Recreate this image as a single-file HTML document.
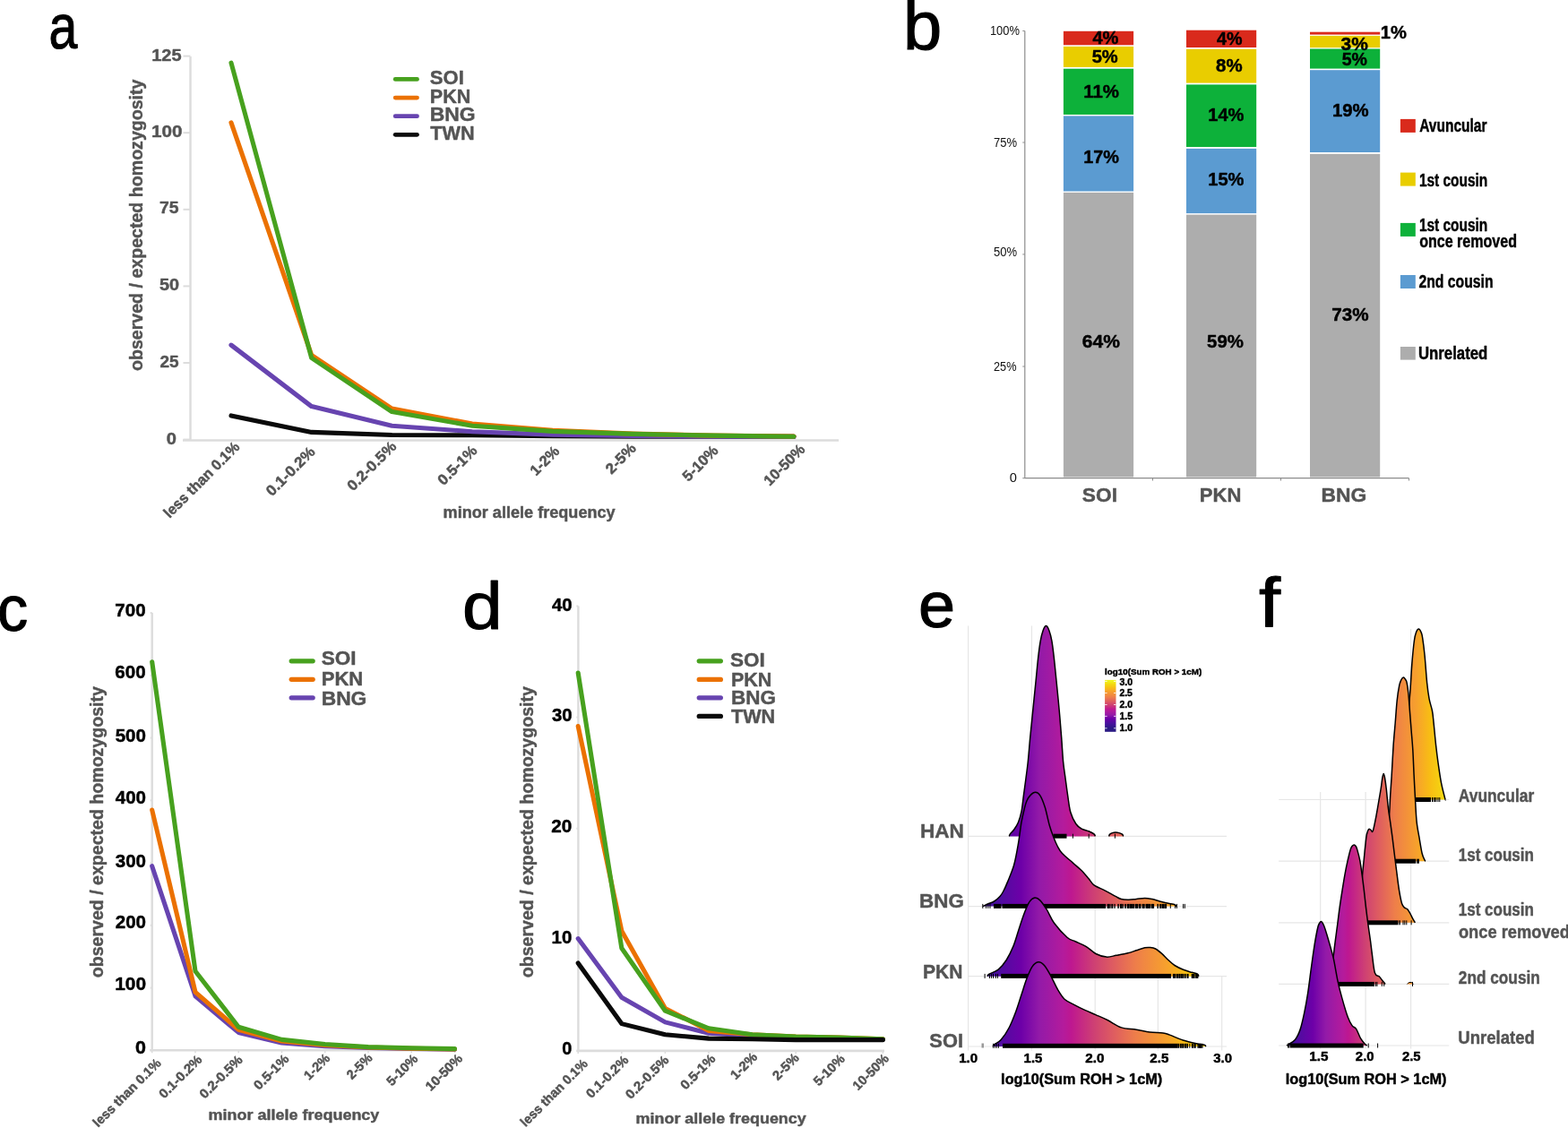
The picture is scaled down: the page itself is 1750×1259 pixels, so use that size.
<!DOCTYPE html>
<html><head><meta charset="utf-8"><title>Figure</title>
<style>html,body{margin:0;padding:0;background:#fff;} svg{display:block;}</style>
</head><body>
<svg width="1750" height="1259" viewBox="0 0 1750 1259">
<rect width="1750" height="1259" fill="#fff"/>
<text id="L_a" x="54.50" y="54.30" style="font-family:'Liberation Sans',sans-serif;font-weight:normal;font-size:71px" fill="#000" text-anchor="start" textLength="31.85" lengthAdjust="spacingAndGlyphs" stroke="#000" stroke-width="1.1" stroke-linejoin="round">a</text>
<text id="L_b" x="1008.10" y="54.50" style="font-family:'Liberation Sans',sans-serif;font-weight:normal;font-size:76.5px" fill="#000" text-anchor="start" textLength="43.21" lengthAdjust="spacingAndGlyphs" stroke="#000" stroke-width="1.1" stroke-linejoin="round">b</text>
<text id="L_c" x="-3.00" y="704.40" style="font-family:'Liberation Sans',sans-serif;font-weight:normal;font-size:71.5px" fill="#000" text-anchor="start" textLength="34.18" lengthAdjust="spacingAndGlyphs" stroke="#000" stroke-width="1.1" stroke-linejoin="round">c</text>
<text id="L_d" x="516.00" y="702.45" style="font-family:'Liberation Sans',sans-serif;font-weight:normal;font-size:74.5px" fill="#000" text-anchor="start" textLength="44.64" lengthAdjust="spacingAndGlyphs" stroke="#000" stroke-width="1.1" stroke-linejoin="round">d</text>
<text id="L_e" x="1024.90" y="700.30" style="font-family:'Liberation Sans',sans-serif;font-weight:normal;font-size:72px" fill="#000" text-anchor="start" textLength="41.12" lengthAdjust="spacingAndGlyphs" stroke="#000" stroke-width="1.1" stroke-linejoin="round">e</text>
<text id="L_f" x="1404.90" y="699.50" style="font-family:'Liberation Sans',sans-serif;font-weight:normal;font-size:77px" fill="#000" text-anchor="start" textLength="24.04" lengthAdjust="spacingAndGlyphs" stroke="#000" stroke-width="1.1" stroke-linejoin="round">f</text>
<line x1="212.5" y1="63" x2="212.5" y2="491.5" stroke="#dcdcdc" stroke-width="2.4"/>
<line x1="204" y1="491.5" x2="936" y2="491.5" stroke="#dcdcdc" stroke-width="2.6"/>
<line x1="204.5" y1="490.6" x2="212.5" y2="490.6" stroke="#dcdcdc" stroke-width="2"/>
<text id="a_t0" x="197.00" y="496.38" style="font-family:'Liberation Sans',sans-serif;font-weight:bold;font-size:18px" fill="#545454" text-anchor="end" textLength="11.16" lengthAdjust="spacingAndGlyphs" stroke="#545454" stroke-width="0.45" stroke-linejoin="round">0</text>
<line x1="204.5" y1="405.0" x2="212.5" y2="405.0" stroke="#dcdcdc" stroke-width="2"/>
<text id="a_t25" x="199.50" y="409.58" style="font-family:'Liberation Sans',sans-serif;font-weight:bold;font-size:18px" fill="#545454" text-anchor="end" textLength="21.09" lengthAdjust="spacingAndGlyphs" stroke="#545454" stroke-width="0.45" stroke-linejoin="round">25</text>
<line x1="204.5" y1="319.4" x2="212.5" y2="319.4" stroke="#dcdcdc" stroke-width="2"/>
<text id="a_t50" x="200.00" y="323.88" style="font-family:'Liberation Sans',sans-serif;font-weight:bold;font-size:18px" fill="#545454" text-anchor="end" textLength="22.04" lengthAdjust="spacingAndGlyphs" stroke="#545454" stroke-width="0.45" stroke-linejoin="round">50</text>
<line x1="204.5" y1="233.8" x2="212.5" y2="233.8" stroke="#dcdcdc" stroke-width="2"/>
<text id="a_t75" x="199.50" y="238.28" style="font-family:'Liberation Sans',sans-serif;font-weight:bold;font-size:18px" fill="#545454" text-anchor="end" textLength="21.54" lengthAdjust="spacingAndGlyphs" stroke="#545454" stroke-width="0.45" stroke-linejoin="round">75</text>
<line x1="204.5" y1="148.2" x2="212.5" y2="148.2" stroke="#dcdcdc" stroke-width="2"/>
<text id="a_t100" x="203.50" y="153.18" style="font-family:'Liberation Sans',sans-serif;font-weight:bold;font-size:18px" fill="#545454" text-anchor="end" textLength="34.46" lengthAdjust="spacingAndGlyphs" stroke="#545454" stroke-width="0.45" stroke-linejoin="round">100</text>
<line x1="204.5" y1="62.6" x2="212.5" y2="62.6" stroke="#dcdcdc" stroke-width="2"/>
<text id="a_t125" x="202.50" y="67.73" style="font-family:'Liberation Sans',sans-serif;font-weight:bold;font-size:18px" fill="#545454" text-anchor="end" textLength="33.30" lengthAdjust="spacingAndGlyphs" stroke="#545454" stroke-width="0.45" stroke-linejoin="round">125</text>
<polyline points="258.0,463.9 347.7,482.4 437.4,485.5 527.1,485.8 616.8,486.8 706.5,487.2 796.2,487.2 885.9,487.2" fill="none" stroke="#0a0a0a" stroke-width="5.1" stroke-linejoin="round" stroke-linecap="round"/>
<polyline points="258.0,385.1 347.7,453.6 437.4,475.2 527.1,481.7 616.8,485.1 706.5,486.5 796.2,487.2 885.9,487.2" fill="none" stroke="#6744b0" stroke-width="5.1" stroke-linejoin="round" stroke-linecap="round"/>
<polyline points="258.0,136.9 347.7,396.4 437.4,456.0 527.1,473.1 616.8,480.3 706.5,484.1 796.2,486.1 885.9,487.0" fill="none" stroke="#eb7100" stroke-width="5.1" stroke-linejoin="round" stroke-linecap="round"/>
<polyline points="258.0,70.1 347.7,399.5 437.4,459.6 527.1,475.2 616.8,481.4 706.5,484.4 796.2,486.1 885.9,487.2" fill="none" stroke="#47a11e" stroke-width="5.1" stroke-linejoin="round" stroke-linecap="round"/>
<text id="a_x0" x="268.50" y="499.85" style="font-family:'Liberation Sans',sans-serif;font-weight:bold;font-size:16.5px" fill="#545454" text-anchor="end" textLength="112.03" lengthAdjust="spacingAndGlyphs" transform="rotate(-45 268.50 499.85)" stroke="#545454" stroke-width="0.45" stroke-linejoin="round">less than 0.1%</text>
<text id="a_x1" x="352.70" y="505.35" style="font-family:'Liberation Sans',sans-serif;font-weight:bold;font-size:16.5px" fill="#545454" text-anchor="end" textLength="69.58" lengthAdjust="spacingAndGlyphs" transform="rotate(-45 352.70 505.35)" stroke="#545454" stroke-width="0.45" stroke-linejoin="round">0.1-0.2%</text>
<text id="a_x2" x="443.40" y="499.35" style="font-family:'Liberation Sans',sans-serif;font-weight:bold;font-size:16.5px" fill="#545454" text-anchor="end" textLength="69.86" lengthAdjust="spacingAndGlyphs" transform="rotate(-45 443.40 499.35)" stroke="#545454" stroke-width="0.45" stroke-linejoin="round">0.2-0.5%</text>
<text id="a_x3" x="533.60" y="503.85" style="font-family:'Liberation Sans',sans-serif;font-weight:bold;font-size:16.5px" fill="#545454" text-anchor="end" textLength="54.54" lengthAdjust="spacingAndGlyphs" transform="rotate(-45 533.60 503.85)" stroke="#545454" stroke-width="0.45" stroke-linejoin="round">0.5-1%</text>
<text id="a_x4" x="625.30" y="504.60" style="font-family:'Liberation Sans',sans-serif;font-weight:bold;font-size:16.5px" fill="#545454" text-anchor="end" textLength="38.39" lengthAdjust="spacingAndGlyphs" transform="rotate(-45 625.30 504.60)" stroke="#545454" stroke-width="0.45" stroke-linejoin="round">1-2%</text>
<text id="a_x5" x="711.00" y="501.35" style="font-family:'Liberation Sans',sans-serif;font-weight:bold;font-size:16.5px" fill="#545454" text-anchor="end" textLength="40.36" lengthAdjust="spacingAndGlyphs" transform="rotate(-45 711.00 501.35)" stroke="#545454" stroke-width="0.45" stroke-linejoin="round">2-5%</text>
<text id="a_x6" x="802.70" y="503.85" style="font-family:'Liberation Sans',sans-serif;font-weight:bold;font-size:16.5px" fill="#545454" text-anchor="end" textLength="48.63" lengthAdjust="spacingAndGlyphs" transform="rotate(-45 802.70 503.85)" stroke="#545454" stroke-width="0.45" stroke-linejoin="round">5-10%</text>
<text id="a_x7" x="899.40" y="502.60" style="font-family:'Liberation Sans',sans-serif;font-weight:bold;font-size:16.5px" fill="#545454" text-anchor="end" textLength="57.24" lengthAdjust="spacingAndGlyphs" transform="rotate(-45 899.40 502.60)" stroke="#545454" stroke-width="0.45" stroke-linejoin="round">10-50%</text>
<line x1="441.2" y1="88.4" x2="465.5" y2="88.4" stroke="#47a11e" stroke-width="4.8" stroke-linecap="round"/>
<text id="a_leg0" x="479.80" y="94.40" style="font-family:'Liberation Sans',sans-serif;font-weight:bold;font-size:22px" fill="#545454" text-anchor="start" textLength="37.99" lengthAdjust="spacingAndGlyphs" stroke="#545454" stroke-width="0.45" stroke-linejoin="round">SOI</text>
<line x1="441.2" y1="109.1" x2="465.5" y2="109.1" stroke="#eb7100" stroke-width="4.8" stroke-linecap="round"/>
<text id="a_leg1" x="479.80" y="115.40" style="font-family:'Liberation Sans',sans-serif;font-weight:bold;font-size:22px" fill="#545454" text-anchor="start" textLength="45.40" lengthAdjust="spacingAndGlyphs" stroke="#545454" stroke-width="0.45" stroke-linejoin="round">PKN</text>
<line x1="441.2" y1="129.7" x2="465.5" y2="129.7" stroke="#6744b0" stroke-width="4.8" stroke-linecap="round"/>
<text id="a_leg2" x="479.80" y="135.40" style="font-family:'Liberation Sans',sans-serif;font-weight:bold;font-size:22px" fill="#545454" text-anchor="start" textLength="50.86" lengthAdjust="spacingAndGlyphs" stroke="#545454" stroke-width="0.45" stroke-linejoin="round">BNG</text>
<line x1="441.2" y1="150.3" x2="465.5" y2="150.3" stroke="#0a0a0a" stroke-width="4.8" stroke-linecap="round"/>
<text id="a_leg3" x="480.30" y="156.40" style="font-family:'Liberation Sans',sans-serif;font-weight:bold;font-size:22px" fill="#545454" text-anchor="start" textLength="49.31" lengthAdjust="spacingAndGlyphs" stroke="#545454" stroke-width="0.45" stroke-linejoin="round">TWN</text>
<text id="a_ylab" x="159.20" y="414.00" style="font-family:'Liberation Sans',sans-serif;font-weight:bold;font-size:21px" fill="#545454" text-anchor="start" textLength="325.49" lengthAdjust="spacingAndGlyphs" transform="rotate(-90 159.20 414.00)" stroke="#545454" stroke-width="0.45" stroke-linejoin="round">observed / expected homozygosity</text>
<text id="a_minor" x="494.60" y="577.50" style="font-family:'Liberation Sans',sans-serif;font-weight:bold;font-size:17.5px" fill="#545454" text-anchor="start" textLength="192.04" lengthAdjust="spacingAndGlyphs" stroke="#545454" stroke-width="0.45" stroke-linejoin="round">minor allele frequency</text>
<line x1="169.7" y1="684.1" x2="169.7" y2="1172.3" stroke="#dcdcdc" stroke-width="2.4"/>
<line x1="167.3" y1="1172.3" x2="509" y2="1172.3" stroke="#dcdcdc" stroke-width="2.6"/>
<line x1="167.7" y1="1172.3" x2="169.7" y2="1172.3" stroke="#dcdcdc" stroke-width="2"/>
<text id="c_t0" x="163.00" y="1176.32" style="font-family:'Liberation Sans',sans-serif;font-weight:bold;font-size:19.5px" fill="#000" text-anchor="end" textLength="11.95" lengthAdjust="spacingAndGlyphs" stroke="#000" stroke-width="0.45" stroke-linejoin="round">0</text>
<line x1="167.7" y1="1102.6" x2="169.7" y2="1102.6" stroke="#dcdcdc" stroke-width="2"/>
<text id="c_t100" x="163.05" y="1105.08" style="font-family:'Liberation Sans',sans-serif;font-weight:bold;font-size:19.5px" fill="#000" text-anchor="end" textLength="34.80" lengthAdjust="spacingAndGlyphs" stroke="#000" stroke-width="0.45" stroke-linejoin="round">100</text>
<line x1="167.7" y1="1032.8" x2="169.7" y2="1032.8" stroke="#dcdcdc" stroke-width="2"/>
<text id="c_t200" x="163.00" y="1036.34" style="font-family:'Liberation Sans',sans-serif;font-weight:bold;font-size:19.5px" fill="#000" text-anchor="end" textLength="34.27" lengthAdjust="spacingAndGlyphs" stroke="#000" stroke-width="0.45" stroke-linejoin="round">200</text>
<line x1="167.7" y1="963.1" x2="169.7" y2="963.1" stroke="#dcdcdc" stroke-width="2"/>
<text id="c_t300" x="163.00" y="967.60" style="font-family:'Liberation Sans',sans-serif;font-weight:bold;font-size:19.5px" fill="#000" text-anchor="end" textLength="34.27" lengthAdjust="spacingAndGlyphs" stroke="#000" stroke-width="0.45" stroke-linejoin="round">300</text>
<line x1="167.7" y1="893.3" x2="169.7" y2="893.3" stroke="#dcdcdc" stroke-width="2"/>
<text id="c_t400" x="163.00" y="897.36" style="font-family:'Liberation Sans',sans-serif;font-weight:bold;font-size:19.5px" fill="#000" text-anchor="end" textLength="34.27" lengthAdjust="spacingAndGlyphs" stroke="#000" stroke-width="0.45" stroke-linejoin="round">400</text>
<line x1="167.7" y1="823.6" x2="169.7" y2="823.6" stroke="#dcdcdc" stroke-width="2"/>
<text id="c_t500" x="163.00" y="827.62" style="font-family:'Liberation Sans',sans-serif;font-weight:bold;font-size:19.5px" fill="#000" text-anchor="end" textLength="34.30" lengthAdjust="spacingAndGlyphs" stroke="#000" stroke-width="0.45" stroke-linejoin="round">500</text>
<line x1="167.7" y1="753.9" x2="169.7" y2="753.9" stroke="#dcdcdc" stroke-width="2"/>
<text id="c_t600" x="162.65" y="757.38" style="font-family:'Liberation Sans',sans-serif;font-weight:bold;font-size:19.5px" fill="#000" text-anchor="end" textLength="34.27" lengthAdjust="spacingAndGlyphs" stroke="#000" stroke-width="0.45" stroke-linejoin="round">600</text>
<line x1="167.7" y1="684.1" x2="169.7" y2="684.1" stroke="#dcdcdc" stroke-width="2"/>
<text id="c_t700" x="162.65" y="688.14" style="font-family:'Liberation Sans',sans-serif;font-weight:bold;font-size:19.5px" fill="#000" text-anchor="end" textLength="34.27" lengthAdjust="spacingAndGlyphs" stroke="#000" stroke-width="0.45" stroke-linejoin="round">700</text>
<line x1="169.7" y1="1172.3" x2="169.7" y2="1175.3" stroke="#dcdcdc" stroke-width="1.5"/>
<line x1="218.0" y1="1172.3" x2="218.0" y2="1175.3" stroke="#dcdcdc" stroke-width="1.5"/>
<line x1="266.2" y1="1172.3" x2="266.2" y2="1175.3" stroke="#dcdcdc" stroke-width="1.5"/>
<line x1="314.5" y1="1172.3" x2="314.5" y2="1175.3" stroke="#dcdcdc" stroke-width="1.5"/>
<line x1="362.7" y1="1172.3" x2="362.7" y2="1175.3" stroke="#dcdcdc" stroke-width="1.5"/>
<line x1="411.0" y1="1172.3" x2="411.0" y2="1175.3" stroke="#dcdcdc" stroke-width="1.5"/>
<line x1="459.3" y1="1172.3" x2="459.3" y2="1175.3" stroke="#dcdcdc" stroke-width="1.5"/>
<line x1="507.5" y1="1172.3" x2="507.5" y2="1175.3" stroke="#dcdcdc" stroke-width="1.5"/>
<polyline points="169.7,966.7 218.0,1111.8 266.2,1152.4 314.5,1164.0 362.7,1167.7 411.0,1169.5 459.3,1170.5 507.5,1171.2" fill="none" stroke="#6744b0" stroke-width="5.1" stroke-linejoin="round" stroke-linecap="round"/>
<polyline points="169.7,904.0 218.0,1107.3 266.2,1149.3 314.5,1162.0 362.7,1166.5 411.0,1169.0 459.3,1170.2 507.5,1171.0" fill="none" stroke="#eb7100" stroke-width="5.1" stroke-linejoin="round" stroke-linecap="round"/>
<polyline points="169.7,738.7 218.0,1084.0 266.2,1146.2 314.5,1160.4 362.7,1165.5 411.0,1168.6 459.3,1169.7 507.5,1170.6" fill="none" stroke="#47a11e" stroke-width="5.1" stroke-linejoin="round" stroke-linecap="round"/>
<text id="c_x0" x="180.70" y="1187.55" style="font-family:'Liberation Sans',sans-serif;font-weight:bold;font-size:14.6px" fill="#545454" text-anchor="end" textLength="100.64" lengthAdjust="spacingAndGlyphs" transform="rotate(-45 180.70 1187.55)" stroke="#545454" stroke-width="0.45" stroke-linejoin="round">less than 0.1%</text>
<text id="c_x1" x="226.46" y="1183.55" style="font-family:'Liberation Sans',sans-serif;font-weight:bold;font-size:14.6px" fill="#545454" text-anchor="end" textLength="60.95" lengthAdjust="spacingAndGlyphs" transform="rotate(-45 226.46 1183.55)" stroke="#545454" stroke-width="0.45" stroke-linejoin="round">0.1-0.2%</text>
<text id="c_x2" x="271.72" y="1183.80" style="font-family:'Liberation Sans',sans-serif;font-weight:bold;font-size:14.6px" fill="#545454" text-anchor="end" textLength="61.07" lengthAdjust="spacingAndGlyphs" transform="rotate(-45 271.72 1183.80)" stroke="#545454" stroke-width="0.45" stroke-linejoin="round">0.2-0.5%</text>
<text id="c_x3" x="323.48" y="1182.80" style="font-family:'Liberation Sans',sans-serif;font-weight:bold;font-size:14.6px" fill="#545454" text-anchor="end" textLength="48.58" lengthAdjust="spacingAndGlyphs" transform="rotate(-45 323.48 1182.80)" stroke="#545454" stroke-width="0.45" stroke-linejoin="round">0.5-1%</text>
<text id="c_x4" x="369.24" y="1182.05" style="font-family:'Liberation Sans',sans-serif;font-weight:bold;font-size:14.6px" fill="#545454" text-anchor="end" textLength="34.15" lengthAdjust="spacingAndGlyphs" transform="rotate(-45 369.24 1182.05)" stroke="#545454" stroke-width="0.45" stroke-linejoin="round">1-2%</text>
<text id="c_x5" x="416.50" y="1181.80" style="font-family:'Liberation Sans',sans-serif;font-weight:bold;font-size:14.6px" fill="#545454" text-anchor="end" textLength="33.50" lengthAdjust="spacingAndGlyphs" transform="rotate(-45 416.50 1181.80)" stroke="#545454" stroke-width="0.45" stroke-linejoin="round">2-5%</text>
<text id="c_x6" x="467.26" y="1182.80" style="font-family:'Liberation Sans',sans-serif;font-weight:bold;font-size:14.6px" fill="#545454" text-anchor="end" textLength="42.50" lengthAdjust="spacingAndGlyphs" transform="rotate(-45 467.26 1182.80)" stroke="#545454" stroke-width="0.45" stroke-linejoin="round">5-10%</text>
<text id="c_x7" x="517.02" y="1182.30" style="font-family:'Liberation Sans',sans-serif;font-weight:bold;font-size:14.6px" fill="#545454" text-anchor="end" textLength="51.13" lengthAdjust="spacingAndGlyphs" transform="rotate(-45 517.02 1182.30)" stroke="#545454" stroke-width="0.45" stroke-linejoin="round">10-50%</text>
<line x1="325.20000000000005" y1="737.8" x2="349.2" y2="737.8" stroke="#47a11e" stroke-width="5.2" stroke-linecap="round"/>
<text id="c_leg0" x="358.70" y="742.30" style="font-family:'Liberation Sans',sans-serif;font-weight:bold;font-size:22px" fill="#545454" text-anchor="start" textLength="38.81" lengthAdjust="spacingAndGlyphs" stroke="#545454" stroke-width="0.45" stroke-linejoin="round">SOI</text>
<line x1="325.20000000000005" y1="758.3" x2="349.2" y2="758.3" stroke="#eb7100" stroke-width="5.2" stroke-linecap="round"/>
<text id="c_leg1" x="358.70" y="764.60" style="font-family:'Liberation Sans',sans-serif;font-weight:bold;font-size:22px" fill="#545454" text-anchor="start" textLength="46.52" lengthAdjust="spacingAndGlyphs" stroke="#545454" stroke-width="0.45" stroke-linejoin="round">PKN</text>
<line x1="325.20000000000005" y1="778.8" x2="349.2" y2="778.8" stroke="#6744b0" stroke-width="5.2" stroke-linecap="round"/>
<text id="c_leg2" x="358.70" y="786.50" style="font-family:'Liberation Sans',sans-serif;font-weight:bold;font-size:22px" fill="#545454" text-anchor="start" textLength="50.66" lengthAdjust="spacingAndGlyphs" stroke="#545454" stroke-width="0.45" stroke-linejoin="round">BNG</text>
<text id="c_ylab" x="114.60" y="1091.20" style="font-family:'Liberation Sans',sans-serif;font-weight:bold;font-size:21px" fill="#545454" text-anchor="start" textLength="325.08" lengthAdjust="spacingAndGlyphs" transform="rotate(-90 114.60 1091.20)" stroke="#545454" stroke-width="0.45" stroke-linejoin="round">observed / expected homozygosity</text>
<text id="c_minor" x="232.60" y="1250.20" style="font-family:'Liberation Sans',sans-serif;font-weight:bold;font-size:17px" fill="#545454" text-anchor="start" textLength="190.77" lengthAdjust="spacingAndGlyphs" stroke="#545454" stroke-width="0.45" stroke-linejoin="round">minor allele frequency</text>
<line x1="645.4" y1="676.5" x2="645.4" y2="1172.9" stroke="#dcdcdc" stroke-width="2.4"/>
<line x1="643.5" y1="1172.9" x2="987" y2="1172.9" stroke="#dcdcdc" stroke-width="2.6"/>
<line x1="643.4" y1="1172.9" x2="645.4" y2="1172.9" stroke="#dcdcdc" stroke-width="2"/>
<text id="d_t0" x="638.30" y="1176.92" style="font-family:'Liberation Sans',sans-serif;font-weight:bold;font-size:19.5px" fill="#000" text-anchor="end" textLength="11.08" lengthAdjust="spacingAndGlyphs" stroke="#000" stroke-width="0.45" stroke-linejoin="round">0</text>
<line x1="643.4" y1="1048.8" x2="645.4" y2="1048.8" stroke="#dcdcdc" stroke-width="2"/>
<text id="d_t10" x="638.30" y="1053.32" style="font-family:'Liberation Sans',sans-serif;font-weight:bold;font-size:19.5px" fill="#000" text-anchor="end" textLength="22.81" lengthAdjust="spacingAndGlyphs" stroke="#000" stroke-width="0.45" stroke-linejoin="round">10</text>
<line x1="643.4" y1="924.7" x2="645.4" y2="924.7" stroke="#dcdcdc" stroke-width="2"/>
<text id="d_t20" x="638.30" y="929.22" style="font-family:'Liberation Sans',sans-serif;font-weight:bold;font-size:19.5px" fill="#000" text-anchor="end" textLength="23.08" lengthAdjust="spacingAndGlyphs" stroke="#000" stroke-width="0.45" stroke-linejoin="round">20</text>
<line x1="643.4" y1="800.6" x2="645.4" y2="800.6" stroke="#dcdcdc" stroke-width="2"/>
<text id="d_t30" x="638.65" y="804.62" style="font-family:'Liberation Sans',sans-serif;font-weight:bold;font-size:19.5px" fill="#000" text-anchor="end" textLength="22.67" lengthAdjust="spacingAndGlyphs" stroke="#000" stroke-width="0.45" stroke-linejoin="round">30</text>
<line x1="643.4" y1="676.5" x2="645.4" y2="676.5" stroke="#dcdcdc" stroke-width="2"/>
<text id="d_t40" x="638.65" y="681.52" style="font-family:'Liberation Sans',sans-serif;font-weight:bold;font-size:19.5px" fill="#000" text-anchor="end" textLength="22.61" lengthAdjust="spacingAndGlyphs" stroke="#000" stroke-width="0.45" stroke-linejoin="round">40</text>
<line x1="645.2" y1="1172.9" x2="645.2" y2="1175.9" stroke="#dcdcdc" stroke-width="1.5"/>
<line x1="693.8" y1="1172.9" x2="693.8" y2="1175.9" stroke="#dcdcdc" stroke-width="1.5"/>
<line x1="742.4" y1="1172.9" x2="742.4" y2="1175.9" stroke="#dcdcdc" stroke-width="1.5"/>
<line x1="791.0" y1="1172.9" x2="791.0" y2="1175.9" stroke="#dcdcdc" stroke-width="1.5"/>
<line x1="839.6" y1="1172.9" x2="839.6" y2="1175.9" stroke="#dcdcdc" stroke-width="1.5"/>
<line x1="888.2" y1="1172.9" x2="888.2" y2="1175.9" stroke="#dcdcdc" stroke-width="1.5"/>
<line x1="936.8" y1="1172.9" x2="936.8" y2="1175.9" stroke="#dcdcdc" stroke-width="1.5"/>
<line x1="985.4" y1="1172.9" x2="985.4" y2="1175.9" stroke="#dcdcdc" stroke-width="1.5"/>
<polyline points="645.2,1047.6 693.8,1113.3 742.4,1140.9 791.0,1153.2 839.6,1156.3 888.2,1158.0 936.8,1159.2 985.4,1159.9" fill="none" stroke="#6744b0" stroke-width="5.1" stroke-linejoin="round" stroke-linecap="round"/>
<polyline points="645.2,810.5 693.8,1038.9 742.4,1125.4 791.0,1150.4 839.6,1154.8 888.2,1157.1 936.8,1158.1 985.4,1159.7" fill="none" stroke="#eb7100" stroke-width="5.1" stroke-linejoin="round" stroke-linecap="round"/>
<polyline points="645.2,751.0 693.8,1058.2 742.4,1128.2 791.0,1147.8 839.6,1154.8 888.2,1157.1 936.8,1158.1 985.4,1159.7" fill="none" stroke="#47a11e" stroke-width="5.1" stroke-linejoin="round" stroke-linecap="round"/>
<polyline points="645.2,1074.9 693.8,1142.6 742.4,1154.8 791.0,1159.1 839.6,1159.7 888.2,1160.6 936.8,1160.6 985.4,1160.6" fill="none" stroke="#0a0a0a" stroke-width="5.1" stroke-linejoin="round" stroke-linecap="round"/>
<text id="d_x0" x="656.70" y="1188.15" style="font-family:'Liberation Sans',sans-serif;font-weight:bold;font-size:14.6px" fill="#545454" text-anchor="end" textLength="99.19" lengthAdjust="spacingAndGlyphs" transform="rotate(-45 656.70 1188.15)" stroke="#545454" stroke-width="0.45" stroke-linejoin="round">less than 0.1%</text>
<text id="d_x1" x="702.30" y="1184.15" style="font-family:'Liberation Sans',sans-serif;font-weight:bold;font-size:14.6px" fill="#545454" text-anchor="end" textLength="59.78" lengthAdjust="spacingAndGlyphs" transform="rotate(-45 702.30 1184.15)" stroke="#545454" stroke-width="0.45" stroke-linejoin="round">0.1-0.2%</text>
<text id="d_x2" x="747.40" y="1184.15" style="font-family:'Liberation Sans',sans-serif;font-weight:bold;font-size:14.6px" fill="#545454" text-anchor="end" textLength="61.29" lengthAdjust="spacingAndGlyphs" transform="rotate(-45 747.40 1184.15)" stroke="#545454" stroke-width="0.45" stroke-linejoin="round">0.2-0.5%</text>
<text id="d_x3" x="799.50" y="1182.65" style="font-family:'Liberation Sans',sans-serif;font-weight:bold;font-size:14.6px" fill="#545454" text-anchor="end" textLength="48.50" lengthAdjust="spacingAndGlyphs" transform="rotate(-45 799.50 1182.65)" stroke="#545454" stroke-width="0.45" stroke-linejoin="round">0.5-1%</text>
<text id="d_x4" x="846.10" y="1180.65" style="font-family:'Liberation Sans',sans-serif;font-weight:bold;font-size:14.6px" fill="#545454" text-anchor="end" textLength="35.58" lengthAdjust="spacingAndGlyphs" transform="rotate(-45 846.10 1180.65)" stroke="#545454" stroke-width="0.45" stroke-linejoin="round">1-2%</text>
<text id="d_x5" x="892.70" y="1181.65" style="font-family:'Liberation Sans',sans-serif;font-weight:bold;font-size:14.6px" fill="#545454" text-anchor="end" textLength="35.06" lengthAdjust="spacingAndGlyphs" transform="rotate(-45 892.70 1181.65)" stroke="#545454" stroke-width="0.45" stroke-linejoin="round">2-5%</text>
<text id="d_x6" x="943.80" y="1182.90" style="font-family:'Liberation Sans',sans-serif;font-weight:bold;font-size:14.6px" fill="#545454" text-anchor="end" textLength="42.39" lengthAdjust="spacingAndGlyphs" transform="rotate(-45 943.80 1182.90)" stroke="#545454" stroke-width="0.45" stroke-linejoin="round">5-10%</text>
<text id="d_x7" x="992.90" y="1182.40" style="font-family:'Liberation Sans',sans-serif;font-weight:bold;font-size:14.6px" fill="#545454" text-anchor="end" textLength="49.93" lengthAdjust="spacingAndGlyphs" transform="rotate(-45 992.90 1182.40)" stroke="#545454" stroke-width="0.45" stroke-linejoin="round">10-50%</text>
<line x1="780.2" y1="737.8" x2="804.4" y2="737.8" stroke="#47a11e" stroke-width="5.2" stroke-linecap="round"/>
<text id="d_leg0" x="815.00" y="744.40" style="font-family:'Liberation Sans',sans-serif;font-weight:bold;font-size:22px" fill="#545454" text-anchor="start" textLength="38.81" lengthAdjust="spacingAndGlyphs" stroke="#545454" stroke-width="0.45" stroke-linejoin="round">SOI</text>
<line x1="780.2" y1="758.4" x2="804.4" y2="758.4" stroke="#eb7100" stroke-width="5.2" stroke-linecap="round"/>
<text id="d_leg1" x="816.00" y="765.80" style="font-family:'Liberation Sans',sans-serif;font-weight:bold;font-size:22px" fill="#545454" text-anchor="start" textLength="45.40" lengthAdjust="spacingAndGlyphs" stroke="#545454" stroke-width="0.45" stroke-linejoin="round">PKN</text>
<line x1="780.2" y1="778.8" x2="804.4" y2="778.8" stroke="#6744b0" stroke-width="5.2" stroke-linecap="round"/>
<text id="d_leg2" x="816.00" y="786.40" style="font-family:'Liberation Sans',sans-serif;font-weight:bold;font-size:22px" fill="#545454" text-anchor="start" textLength="49.93" lengthAdjust="spacingAndGlyphs" stroke="#545454" stroke-width="0.45" stroke-linejoin="round">BNG</text>
<line x1="780.2" y1="799.4" x2="804.4" y2="799.4" stroke="#0a0a0a" stroke-width="5.2" stroke-linecap="round"/>
<text id="d_leg3" x="816.00" y="806.80" style="font-family:'Liberation Sans',sans-serif;font-weight:bold;font-size:22px" fill="#545454" text-anchor="start" textLength="49.11" lengthAdjust="spacingAndGlyphs" stroke="#545454" stroke-width="0.45" stroke-linejoin="round">TWN</text>
<text id="d_ylab" x="595.40" y="1091.20" style="font-family:'Liberation Sans',sans-serif;font-weight:bold;font-size:21px" fill="#545454" text-anchor="start" textLength="325.08" lengthAdjust="spacingAndGlyphs" transform="rotate(-90 595.40 1091.20)" stroke="#545454" stroke-width="0.45" stroke-linejoin="round">observed / expected homozygosity</text>
<text id="d_minor" x="709.60" y="1254.20" style="font-family:'Liberation Sans',sans-serif;font-weight:bold;font-size:17px" fill="#545454" text-anchor="start" textLength="190.14" lengthAdjust="spacingAndGlyphs" stroke="#545454" stroke-width="0.45" stroke-linejoin="round">minor allele frequency</text>
<line x1="1143.8" y1="34.5" x2="1143.8" y2="534" stroke="#8c8c8c" stroke-width="1.2"/>
<line x1="1143.8" y1="533.7" x2="1572.5" y2="533.7" stroke="#8c8c8c" stroke-width="1.2"/>
<line x1="1141.3" y1="34.5" x2="1143.8" y2="34.5" stroke="#8c8c8c" stroke-width="1"/>
<line x1="1141.3" y1="159" x2="1143.8" y2="159" stroke="#8c8c8c" stroke-width="1"/>
<line x1="1141.3" y1="283.9" x2="1143.8" y2="283.9" stroke="#8c8c8c" stroke-width="1"/>
<line x1="1141.3" y1="409" x2="1143.8" y2="409" stroke="#8c8c8c" stroke-width="1"/>
<line x1="1141.3" y1="533.7" x2="1143.8" y2="533.7" stroke="#8c8c8c" stroke-width="1"/>
<line x1="1286.5" y1="533.7" x2="1286.5" y2="536.5" stroke="#8c8c8c" stroke-width="1"/>
<line x1="1429.5" y1="533.7" x2="1429.5" y2="536.5" stroke="#8c8c8c" stroke-width="1"/>
<line x1="1572.5" y1="533.7" x2="1572.5" y2="536.5" stroke="#8c8c8c" stroke-width="1"/>
<text id="b_t100" x="1138.00" y="38.50" style="font-family:'Liberation Sans',sans-serif;font-weight:normal;font-size:14.5px" fill="#111" text-anchor="end" textLength="33.12" lengthAdjust="spacingAndGlyphs">100%</text>
<text id="b_t75" x="1135.00" y="163.50" style="font-family:'Liberation Sans',sans-serif;font-weight:normal;font-size:14.5px" fill="#111" text-anchor="end" textLength="26.07" lengthAdjust="spacingAndGlyphs">75%</text>
<text id="b_t50" x="1135.00" y="285.90" style="font-family:'Liberation Sans',sans-serif;font-weight:normal;font-size:14.5px" fill="#111" text-anchor="end" textLength="26.07" lengthAdjust="spacingAndGlyphs">50%</text>
<text id="b_t25" x="1134.50" y="413.50" style="font-family:'Liberation Sans',sans-serif;font-weight:normal;font-size:14.5px" fill="#111" text-anchor="end" textLength="25.51" lengthAdjust="spacingAndGlyphs">25%</text>
<text id="b_t0" x="1135.00" y="537.70" style="font-family:'Liberation Sans',sans-serif;font-weight:normal;font-size:14.5px" fill="#111" text-anchor="end" textLength="8.16" lengthAdjust="spacingAndGlyphs">0</text>
<rect x="1186.9" y="34.8" width="78.2" height="15.5" fill="#d92a1c"/>
<rect x="1186.9" y="51.9" width="78.2" height="23.0" fill="#e9cd00"/>
<rect x="1186.9" y="76.7" width="78.2" height="51.2" fill="#0db13a"/>
<rect x="1186.9" y="129.4" width="78.2" height="84.1" fill="#5b9bd1"/>
<rect x="1186.9" y="214.9" width="78.2" height="317.6" fill="#adadad"/>
<rect x="1324.0" y="33.7" width="78.2" height="19.3" fill="#d92a1c"/>
<rect x="1324.0" y="54.8" width="78.2" height="37.8" fill="#e9cd00"/>
<rect x="1324.0" y="94.4" width="78.2" height="69.6" fill="#0db13a"/>
<rect x="1324.0" y="165.9" width="78.2" height="72.2" fill="#5b9bd1"/>
<rect x="1324.0" y="239.6" width="78.2" height="292.9" fill="#adadad"/>
<rect x="1462.0" y="35.7" width="78.2" height="2.9" fill="#d92a1c"/>
<rect x="1462.0" y="39.9" width="78.2" height="13.3" fill="#e9cd00"/>
<rect x="1462.0" y="54.5" width="78.2" height="22.1" fill="#0db13a"/>
<rect x="1462.0" y="78.2" width="78.2" height="91.8" fill="#5b9bd1"/>
<rect x="1462.0" y="171.8" width="78.2" height="360.7" fill="#adadad"/>
<text id="b_ls4" x="1248.40" y="49.20" style="font-family:'Liberation Sans',sans-serif;font-weight:bold;font-size:19.5px" fill="#000" text-anchor="end" textLength="28.96" lengthAdjust="spacingAndGlyphs" stroke="#000" stroke-width="0.45" stroke-linejoin="round">4%</text>
<text id="b_ls5" x="1247.70" y="70.40" style="font-family:'Liberation Sans',sans-serif;font-weight:bold;font-size:19.5px" fill="#000" text-anchor="end" textLength="29.03" lengthAdjust="spacingAndGlyphs" stroke="#000" stroke-width="0.45" stroke-linejoin="round">5%</text>
<text id="b_ls11" x="1248.90" y="109.30" style="font-family:'Liberation Sans',sans-serif;font-weight:bold;font-size:19.5px" fill="#000" text-anchor="end" textLength="39.70" lengthAdjust="spacingAndGlyphs" stroke="#000" stroke-width="0.45" stroke-linejoin="round">11%</text>
<text id="b_ls17" x="1248.90" y="181.80" style="font-family:'Liberation Sans',sans-serif;font-weight:bold;font-size:19.5px" fill="#000" text-anchor="end" textLength="39.73" lengthAdjust="spacingAndGlyphs" stroke="#000" stroke-width="0.45" stroke-linejoin="round">17%</text>
<text id="b_ls64" x="1249.80" y="387.80" style="font-family:'Liberation Sans',sans-serif;font-weight:bold;font-size:19.5px" fill="#000" text-anchor="end" textLength="42.01" lengthAdjust="spacingAndGlyphs" stroke="#000" stroke-width="0.45" stroke-linejoin="round">64%</text>
<text id="b_lp4" x="1386.60" y="50.10" style="font-family:'Liberation Sans',sans-serif;font-weight:bold;font-size:19.5px" fill="#000" text-anchor="end" textLength="28.46" lengthAdjust="spacingAndGlyphs" stroke="#000" stroke-width="0.45" stroke-linejoin="round">4%</text>
<text id="b_lp8" x="1386.60" y="79.70" style="font-family:'Liberation Sans',sans-serif;font-weight:bold;font-size:19.5px" fill="#000" text-anchor="end" textLength="29.48" lengthAdjust="spacingAndGlyphs" stroke="#000" stroke-width="0.45" stroke-linejoin="round">8%</text>
<text id="b_lp14" x="1388.40" y="134.50" style="font-family:'Liberation Sans',sans-serif;font-weight:bold;font-size:19.5px" fill="#000" text-anchor="end" textLength="40.14" lengthAdjust="spacingAndGlyphs" stroke="#000" stroke-width="0.45" stroke-linejoin="round">14%</text>
<text id="b_lp15" x="1388.40" y="207.20" style="font-family:'Liberation Sans',sans-serif;font-weight:bold;font-size:19.5px" fill="#000" text-anchor="end" textLength="40.14" lengthAdjust="spacingAndGlyphs" stroke="#000" stroke-width="0.45" stroke-linejoin="round">15%</text>
<text id="b_lp59" x="1387.90" y="387.50" style="font-family:'Liberation Sans',sans-serif;font-weight:bold;font-size:19.5px" fill="#000" text-anchor="end" textLength="40.78" lengthAdjust="spacingAndGlyphs" stroke="#000" stroke-width="0.45" stroke-linejoin="round">59%</text>
<text id="b_lb3" x="1526.80" y="55.50" style="font-family:'Liberation Sans',sans-serif;font-weight:bold;font-size:19.5px" fill="#000" text-anchor="end" textLength="30.22" lengthAdjust="spacingAndGlyphs" stroke="#000" stroke-width="0.45" stroke-linejoin="round">3%</text>
<text id="b_lb5" x="1525.80" y="73.30" style="font-family:'Liberation Sans',sans-serif;font-weight:bold;font-size:19.5px" fill="#000" text-anchor="end" textLength="28.12" lengthAdjust="spacingAndGlyphs" stroke="#000" stroke-width="0.45" stroke-linejoin="round">5%</text>
<text id="b_lb19" x="1527.60" y="130.40" style="font-family:'Liberation Sans',sans-serif;font-weight:bold;font-size:19.5px" fill="#000" text-anchor="end" textLength="40.67" lengthAdjust="spacingAndGlyphs" stroke="#000" stroke-width="0.45" stroke-linejoin="round">19%</text>
<text id="b_lb73" x="1527.70" y="358.30" style="font-family:'Liberation Sans',sans-serif;font-weight:bold;font-size:19.5px" fill="#000" text-anchor="end" textLength="41.32" lengthAdjust="spacingAndGlyphs" stroke="#000" stroke-width="0.45" stroke-linejoin="round">73%</text>
<text id="b_l1" x="1540.80" y="43.40" style="font-family:'Liberation Sans',sans-serif;font-weight:bold;font-size:19.5px" fill="#000" text-anchor="start" textLength="29.04" lengthAdjust="spacingAndGlyphs" stroke="#000" stroke-width="0.45" stroke-linejoin="round">1%</text>
<rect x="1562.9" y="132.9" width="16.9" height="15.0" fill="#d92a1c"/>
<text id="b_leg0" x="1584.20" y="147.00" style="font-family:'Liberation Sans',sans-serif;font-weight:bold;font-size:19.5px" fill="#000" text-anchor="start" textLength="75.33" lengthAdjust="spacingAndGlyphs" stroke="#000" stroke-width="0.45" stroke-linejoin="round">Avuncular</text>
<rect x="1562.9" y="192.6" width="16.9" height="15.0" fill="#e9cd00"/>
<text id="b_leg1" x="1583.90" y="208.00" style="font-family:'Liberation Sans',sans-serif;font-weight:bold;font-size:19.5px" fill="#000" text-anchor="start" textLength="76.35" lengthAdjust="spacingAndGlyphs" stroke="#000" stroke-width="0.45" stroke-linejoin="round">1st cousin</text>
<rect x="1562.9" y="248.9" width="16.9" height="15.0" fill="#0db13a"/>
<text id="b_leg2" x="1583.90" y="257.50" style="font-family:'Liberation Sans',sans-serif;font-weight:bold;font-size:19.5px" fill="#000" text-anchor="start" textLength="76.35" lengthAdjust="spacingAndGlyphs" stroke="#000" stroke-width="0.45" stroke-linejoin="round">1st cousin</text>
<text id="b_leg3" x="1584.20" y="276.20" style="font-family:'Liberation Sans',sans-serif;font-weight:bold;font-size:19.5px" fill="#000" text-anchor="start" textLength="108.85" lengthAdjust="spacingAndGlyphs" stroke="#000" stroke-width="0.45" stroke-linejoin="round">once removed</text>
<rect x="1562.9" y="307" width="16.9" height="15.0" fill="#5b9bd1"/>
<text id="b_leg4" x="1583.50" y="321.40" style="font-family:'Liberation Sans',sans-serif;font-weight:bold;font-size:19.5px" fill="#000" text-anchor="start" textLength="83.00" lengthAdjust="spacingAndGlyphs" stroke="#000" stroke-width="0.45" stroke-linejoin="round">2nd cousin</text>
<rect x="1562.9" y="387" width="16.9" height="14.6" fill="#adadad"/>
<text id="b_leg5" x="1583.00" y="401.30" style="font-family:'Liberation Sans',sans-serif;font-weight:bold;font-size:19.5px" fill="#000" text-anchor="start" textLength="77.29" lengthAdjust="spacingAndGlyphs" stroke="#000" stroke-width="0.45" stroke-linejoin="round">Unrelated</text>
<text id="b_catSOI" x="1207.85" y="559.70" style="font-family:'Liberation Sans',sans-serif;font-weight:bold;font-size:22px" fill="#545454" text-anchor="start" textLength="39.14" lengthAdjust="spacingAndGlyphs" stroke="#545454" stroke-width="0.45" stroke-linejoin="round">SOI</text>
<text id="b_catPKN" x="1338.80" y="559.70" style="font-family:'Liberation Sans',sans-serif;font-weight:bold;font-size:22px" fill="#545454" text-anchor="start" textLength="46.54" lengthAdjust="spacingAndGlyphs" stroke="#545454" stroke-width="0.45" stroke-linejoin="round">PKN</text>
<text id="b_catBNG" x="1474.60" y="559.70" style="font-family:'Liberation Sans',sans-serif;font-weight:bold;font-size:22px" fill="#545454" text-anchor="start" textLength="50.77" lengthAdjust="spacingAndGlyphs" stroke="#545454" stroke-width="0.45" stroke-linejoin="round">BNG</text>
<defs>
<linearGradient id="ge" gradientUnits="userSpaceOnUse" x1="1080.9" y1="0" x2="1363.7" y2="0"><stop offset="0.0000" stop-color="#2b1a84"/><stop offset="0.1000" stop-color="#46109d"/><stop offset="0.2075" stop-color="#6d00a8"/><stop offset="0.2800" stop-color="#931aa8"/><stop offset="0.3750" stop-color="#b41b9c"/><stop offset="0.4050" stop-color="#be1790"/><stop offset="0.5000" stop-color="#cf4272"/><stop offset="0.5650" stop-color="#dd5a62"/><stop offset="0.6600" stop-color="#ee7e4a"/><stop offset="0.7850" stop-color="#f7a22c"/><stop offset="0.8550" stop-color="#f8bd14"/><stop offset="0.9400" stop-color="#f3da10"/><stop offset="1.0000" stop-color="#eff31c"/></linearGradient>
<linearGradient id="gf" gradientUnits="userSpaceOnUse" x1="1423.3" y1="0" x2="1625.1" y2="0"><stop offset="0.0000" stop-color="#2b1a84"/><stop offset="0.1000" stop-color="#46109d"/><stop offset="0.2075" stop-color="#6d00a8"/><stop offset="0.2800" stop-color="#931aa8"/><stop offset="0.3750" stop-color="#b41b9c"/><stop offset="0.4050" stop-color="#be1790"/><stop offset="0.5000" stop-color="#cf4272"/><stop offset="0.5650" stop-color="#dd5a62"/><stop offset="0.6600" stop-color="#ee7e4a"/><stop offset="0.7850" stop-color="#f7a22c"/><stop offset="0.8550" stop-color="#f8bd14"/><stop offset="0.9400" stop-color="#f3da10"/><stop offset="1.0000" stop-color="#eff31c"/></linearGradient>
</defs>
<line x1="1080.6" y1="698.5" x2="1080.6" y2="1172.5" stroke="#e6e6e6" stroke-width="1.2"/>
<line x1="1151.5" y1="698.5" x2="1151.5" y2="1172.5" stroke="#e6e6e6" stroke-width="1.2"/>
<line x1="1222.2" y1="933.4" x2="1222.2" y2="1172.5" stroke="#e6e6e6" stroke-width="1.2"/>
<line x1="1292.4" y1="1011.6" x2="1292.4" y2="1172.5" stroke="#e6e6e6" stroke-width="1.2"/>
<line x1="1363.7" y1="1089.7" x2="1363.7" y2="1172.5" stroke="#e6e6e6" stroke-width="1.2"/>
<line x1="1080.7" y1="933.4" x2="1369" y2="933.4" stroke="#e6e6e6" stroke-width="1.2"/>
<line x1="1080.7" y1="1011.6" x2="1369" y2="1011.6" stroke="#e6e6e6" stroke-width="1.2"/>
<line x1="1080.7" y1="1089.7" x2="1369" y2="1089.7" stroke="#e6e6e6" stroke-width="1.2"/>
<line x1="1080.7" y1="1168.0" x2="1369" y2="1168.0" stroke="#e6e6e6" stroke-width="1.2"/>
<path d="M1126.30,933.40 C1126.50,932.93 1126.60,931.83 1127.50,930.60 C1128.40,929.37 1130.20,928.15 1131.70,926.00 C1133.20,923.85 1135.12,921.08 1136.50,917.70 C1137.88,914.32 1139.02,910.67 1140.00,905.70 C1140.98,900.73 1141.60,893.85 1142.40,887.90 C1143.20,881.95 1143.98,876.32 1144.80,870.00 C1145.62,863.68 1146.48,857.77 1147.30,850.00 C1148.12,842.23 1148.77,833.12 1149.70,823.40 C1150.63,813.68 1151.83,802.28 1152.90,791.70 C1153.97,781.12 1155.15,769.43 1156.10,759.90 C1157.05,750.37 1157.75,741.92 1158.60,734.50 C1159.45,727.08 1160.27,720.57 1161.20,715.40 C1162.13,710.23 1163.15,706.32 1164.20,703.50 C1165.25,700.68 1166.40,698.50 1167.50,698.50 C1168.60,698.50 1169.73,700.68 1170.80,703.50 C1171.87,706.32 1172.97,710.23 1173.90,715.40 C1174.83,720.57 1175.55,727.08 1176.40,734.50 C1177.25,741.92 1178.05,750.37 1179.00,759.90 C1179.95,769.43 1181.15,781.12 1182.10,791.70 C1183.05,802.28 1183.95,813.68 1184.70,823.40 C1185.45,833.12 1185.87,842.38 1186.60,850.00 C1187.33,857.62 1188.25,862.75 1189.10,869.10 C1189.95,875.45 1190.75,881.87 1191.70,888.10 C1192.65,894.33 1193.28,901.27 1194.80,906.50 C1196.32,911.73 1198.82,916.45 1200.80,919.50 C1202.78,922.55 1204.32,923.42 1206.70,924.80 C1209.08,926.18 1212.72,926.80 1215.10,927.80 C1217.48,928.80 1219.78,929.87 1221.00,930.80 C1222.22,931.73 1222.17,932.97 1222.40,933.40 L1222.40,933.4 L1126.30,933.4 Z" fill="url(#ge)"/>
<path d="M1126.30,933.40 C1126.50,932.93 1126.60,931.83 1127.50,930.60 C1128.40,929.37 1130.20,928.15 1131.70,926.00 C1133.20,923.85 1135.12,921.08 1136.50,917.70 C1137.88,914.32 1139.02,910.67 1140.00,905.70 C1140.98,900.73 1141.60,893.85 1142.40,887.90 C1143.20,881.95 1143.98,876.32 1144.80,870.00 C1145.62,863.68 1146.48,857.77 1147.30,850.00 C1148.12,842.23 1148.77,833.12 1149.70,823.40 C1150.63,813.68 1151.83,802.28 1152.90,791.70 C1153.97,781.12 1155.15,769.43 1156.10,759.90 C1157.05,750.37 1157.75,741.92 1158.60,734.50 C1159.45,727.08 1160.27,720.57 1161.20,715.40 C1162.13,710.23 1163.15,706.32 1164.20,703.50 C1165.25,700.68 1166.40,698.50 1167.50,698.50 C1168.60,698.50 1169.73,700.68 1170.80,703.50 C1171.87,706.32 1172.97,710.23 1173.90,715.40 C1174.83,720.57 1175.55,727.08 1176.40,734.50 C1177.25,741.92 1178.05,750.37 1179.00,759.90 C1179.95,769.43 1181.15,781.12 1182.10,791.70 C1183.05,802.28 1183.95,813.68 1184.70,823.40 C1185.45,833.12 1185.87,842.38 1186.60,850.00 C1187.33,857.62 1188.25,862.75 1189.10,869.10 C1189.95,875.45 1190.75,881.87 1191.70,888.10 C1192.65,894.33 1193.28,901.27 1194.80,906.50 C1196.32,911.73 1198.82,916.45 1200.80,919.50 C1202.78,922.55 1204.32,923.42 1206.70,924.80 C1209.08,926.18 1212.72,926.80 1215.10,927.80 C1217.48,928.80 1219.78,929.87 1221.00,930.80 C1222.22,931.73 1222.17,932.97 1222.40,933.40" fill="none" stroke="#000" stroke-width="1.5" stroke-linejoin="round"/>
<path d="M1237.70,933.40 C1237.83,933.03 1237.87,931.83 1238.50,931.20 C1239.13,930.57 1240.42,929.97 1241.50,929.60 C1242.58,929.23 1243.75,929.00 1245.00,929.00 C1246.25,929.00 1247.75,929.23 1249.00,929.60 C1250.25,929.97 1251.70,930.57 1252.50,931.20 C1253.30,931.83 1253.58,933.03 1253.80,933.40 L1253.80,933.4 L1237.70,933.4 Z" fill="url(#ge)"/>
<path d="M1237.70,933.40 C1237.83,933.03 1237.87,931.83 1238.50,931.20 C1239.13,930.57 1240.42,929.97 1241.50,929.60 C1242.58,929.23 1243.75,929.00 1245.00,929.00 C1246.25,929.00 1247.75,929.23 1249.00,929.60 C1250.25,929.97 1251.70,930.57 1252.50,931.20 C1253.30,931.83 1253.58,933.03 1253.80,933.40" fill="none" stroke="#000" stroke-width="1.5" stroke-linejoin="round"/>
<rect x="1175.5" y="930.7" width="15.0" height="5" fill="#000"/>
<rect x="1196.9" y="930.7" width="1" height="5" fill="#000"/>
<rect x="1214.7" y="930.7" width="1" height="5" fill="#000"/>
<rect x="1243.9" y="930.7" width="1" height="5" fill="#000"/>
<path d="M1097.00,1011.60 C1097.88,1011.15 1100.20,1009.83 1102.30,1008.90 C1104.40,1007.97 1107.32,1007.40 1109.60,1006.00 C1111.88,1004.60 1114.32,1002.33 1116.00,1000.50 C1117.68,998.67 1118.28,997.68 1119.70,995.00 C1121.12,992.32 1122.50,989.35 1124.50,984.40 C1126.50,979.45 1129.70,972.45 1131.70,965.30 C1133.70,958.15 1135.12,949.43 1136.50,941.50 C1137.88,933.57 1138.88,924.12 1140.00,917.70 C1141.12,911.28 1142.20,906.98 1143.20,903.00 C1144.20,899.02 1144.83,896.40 1146.00,893.80 C1147.17,891.20 1148.62,888.98 1150.20,887.40 C1151.78,885.82 1153.73,884.23 1155.50,884.30 C1157.27,884.37 1159.02,885.05 1160.80,887.80 C1162.58,890.55 1164.45,895.23 1166.20,900.80 C1167.95,906.37 1169.70,915.62 1171.30,921.20 C1172.90,926.78 1174.35,930.50 1175.80,934.30 C1177.25,938.10 1178.42,941.02 1180.00,944.00 C1181.58,946.98 1182.43,949.05 1185.30,952.20 C1188.17,955.35 1193.63,959.72 1197.20,962.90 C1200.77,966.08 1203.72,968.32 1206.70,971.30 C1209.68,974.28 1212.72,978.03 1215.10,980.80 C1217.48,983.57 1218.02,985.72 1221.00,987.90 C1223.98,990.08 1229.02,991.82 1233.00,993.90 C1236.98,995.98 1241.83,998.78 1244.90,1000.40 C1247.97,1002.02 1248.92,1002.97 1251.40,1003.60 C1253.88,1004.23 1257.02,1004.23 1259.80,1004.20 C1262.58,1004.17 1265.12,1003.70 1268.10,1003.40 C1271.08,1003.10 1274.72,1002.37 1277.70,1002.40 C1280.68,1002.43 1283.23,1003.00 1286.00,1003.60 C1288.77,1004.20 1291.72,1005.30 1294.30,1006.00 C1296.88,1006.70 1298.92,1007.25 1301.50,1007.80 C1304.08,1008.35 1307.88,1008.67 1309.80,1009.30 C1311.72,1009.93 1312.47,1011.22 1313.00,1011.60 L1313.00,1011.6 L1097.00,1011.6 Z" fill="url(#ge)"/>
<path d="M1097.00,1011.60 C1097.88,1011.15 1100.20,1009.83 1102.30,1008.90 C1104.40,1007.97 1107.32,1007.40 1109.60,1006.00 C1111.88,1004.60 1114.32,1002.33 1116.00,1000.50 C1117.68,998.67 1118.28,997.68 1119.70,995.00 C1121.12,992.32 1122.50,989.35 1124.50,984.40 C1126.50,979.45 1129.70,972.45 1131.70,965.30 C1133.70,958.15 1135.12,949.43 1136.50,941.50 C1137.88,933.57 1138.88,924.12 1140.00,917.70 C1141.12,911.28 1142.20,906.98 1143.20,903.00 C1144.20,899.02 1144.83,896.40 1146.00,893.80 C1147.17,891.20 1148.62,888.98 1150.20,887.40 C1151.78,885.82 1153.73,884.23 1155.50,884.30 C1157.27,884.37 1159.02,885.05 1160.80,887.80 C1162.58,890.55 1164.45,895.23 1166.20,900.80 C1167.95,906.37 1169.70,915.62 1171.30,921.20 C1172.90,926.78 1174.35,930.50 1175.80,934.30 C1177.25,938.10 1178.42,941.02 1180.00,944.00 C1181.58,946.98 1182.43,949.05 1185.30,952.20 C1188.17,955.35 1193.63,959.72 1197.20,962.90 C1200.77,966.08 1203.72,968.32 1206.70,971.30 C1209.68,974.28 1212.72,978.03 1215.10,980.80 C1217.48,983.57 1218.02,985.72 1221.00,987.90 C1223.98,990.08 1229.02,991.82 1233.00,993.90 C1236.98,995.98 1241.83,998.78 1244.90,1000.40 C1247.97,1002.02 1248.92,1002.97 1251.40,1003.60 C1253.88,1004.23 1257.02,1004.23 1259.80,1004.20 C1262.58,1004.17 1265.12,1003.70 1268.10,1003.40 C1271.08,1003.10 1274.72,1002.37 1277.70,1002.40 C1280.68,1002.43 1283.23,1003.00 1286.00,1003.60 C1288.77,1004.20 1291.72,1005.30 1294.30,1006.00 C1296.88,1006.70 1298.92,1007.25 1301.50,1007.80 C1304.08,1008.35 1307.88,1008.67 1309.80,1009.30 C1311.72,1009.93 1312.47,1011.22 1313.00,1011.60" fill="none" stroke="#000" stroke-width="1.5" stroke-linejoin="round"/>
<rect x="1109" y="1008.9" width="8.5" height="5" fill="#000"/>
<rect x="1118.5" y="1008.9" width="114.5" height="5" fill="#000"/>
<rect x="1096.3" y="1008.9" width="1" height="5" fill="#000"/>
<rect x="1100.1" y="1008.9" width="1" height="5" fill="#000"/>
<rect x="1102.3" y="1008.9" width="1" height="5" fill="#000"/>
<rect x="1104.5" y="1008.9" width="1" height="5" fill="#000"/>
<rect x="1305.8" y="1008.9" width="1" height="5" fill="#000"/>
<rect x="1311.1" y="1008.9" width="1" height="5" fill="#000"/>
<rect x="1312.9" y="1008.9" width="1" height="5" fill="#000"/>
<rect x="1320.1" y="1008.9" width="1" height="5" fill="#000"/>
<rect x="1321.8" y="1008.9" width="1" height="5" fill="#000"/>
<rect x="1233.0" y="1008.9" width="1.2" height="5" fill="#000"/>
<rect x="1235.6" y="1008.9" width="1.6" height="5" fill="#000"/>
<rect x="1236.9" y="1008.9" width="1.1" height="5" fill="#000"/>
<rect x="1238.2" y="1008.9" width="1.0" height="5" fill="#000"/>
<rect x="1239.5" y="1008.9" width="1.1" height="5" fill="#000"/>
<rect x="1240.8" y="1008.9" width="1.5" height="5" fill="#000"/>
<rect x="1243.4" y="1008.9" width="1.3" height="5" fill="#000"/>
<rect x="1247.3" y="1008.9" width="1.5" height="5" fill="#000"/>
<rect x="1249.9" y="1008.9" width="2.0" height="5" fill="#000"/>
<rect x="1251.2" y="1008.9" width="1.2" height="5" fill="#000"/>
<rect x="1252.5" y="1008.9" width="1.4" height="5" fill="#000"/>
<rect x="1255.1" y="1008.9" width="1.7" height="5" fill="#000"/>
<rect x="1257.7" y="1008.9" width="1.7" height="5" fill="#000"/>
<rect x="1259.0" y="1008.9" width="1.1" height="5" fill="#000"/>
<rect x="1260.3" y="1008.9" width="1.8" height="5" fill="#000"/>
<rect x="1261.6" y="1008.9" width="1.4" height="5" fill="#000"/>
<rect x="1262.9" y="1008.9" width="1.5" height="5" fill="#000"/>
<rect x="1264.2" y="1008.9" width="2.0" height="5" fill="#000"/>
<rect x="1266.8" y="1008.9" width="1.7" height="5" fill="#000"/>
<rect x="1268.1" y="1008.9" width="2.1" height="5" fill="#000"/>
<rect x="1270.7" y="1008.9" width="2.2" height="5" fill="#000"/>
<rect x="1272.0" y="1008.9" width="1.5" height="5" fill="#000"/>
<rect x="1274.6" y="1008.9" width="1.6" height="5" fill="#000"/>
<rect x="1275.9" y="1008.9" width="1.8" height="5" fill="#000"/>
<rect x="1278.5" y="1008.9" width="2.1" height="5" fill="#000"/>
<rect x="1279.8" y="1008.9" width="1.8" height="5" fill="#000"/>
<rect x="1281.1" y="1008.9" width="1.7" height="5" fill="#000"/>
<rect x="1282.4" y="1008.9" width="2.0" height="5" fill="#000"/>
<rect x="1285.0" y="1008.9" width="1.8" height="5" fill="#000"/>
<rect x="1286.3" y="1008.9" width="1.8" height="5" fill="#000"/>
<rect x="1291.5" y="1008.9" width="1.5" height="5" fill="#000"/>
<rect x="1294.1" y="1008.9" width="1.6" height="5" fill="#000"/>
<rect x="1295.4" y="1008.9" width="1.1" height="5" fill="#000"/>
<rect x="1296.7" y="1008.9" width="1.9" height="5" fill="#000"/>
<rect x="1298.0" y="1008.9" width="1.3" height="5" fill="#000"/>
<rect x="1299.3" y="1008.9" width="2.0" height="5" fill="#000"/>
<rect x="1300.6" y="1008.9" width="1.5" height="5" fill="#000"/>
<path d="M1102.00,1089.70 C1102.27,1089.32 1101.57,1088.67 1103.60,1087.40 C1105.63,1086.13 1110.93,1084.75 1114.20,1082.10 C1117.47,1079.45 1120.43,1075.78 1123.20,1071.50 C1125.97,1067.22 1128.53,1061.93 1130.80,1056.40 C1133.07,1050.87 1134.80,1044.33 1136.80,1038.30 C1138.80,1032.27 1140.78,1025.48 1142.80,1020.20 C1144.82,1014.92 1146.88,1009.62 1148.90,1006.60 C1150.92,1003.58 1152.88,1002.35 1154.90,1002.10 C1156.92,1001.85 1158.73,1002.83 1161.00,1005.10 C1163.27,1007.37 1165.92,1011.52 1168.50,1015.70 C1171.08,1019.88 1172.75,1025.12 1176.50,1030.20 C1180.25,1035.28 1187.07,1042.77 1191.00,1046.20 C1194.93,1049.63 1196.60,1049.12 1200.10,1050.80 C1203.60,1052.48 1208.18,1054.02 1212.00,1056.30 C1215.82,1058.58 1219.18,1062.53 1223.00,1064.50 C1226.82,1066.47 1231.08,1067.80 1234.90,1068.10 C1238.72,1068.40 1241.95,1067.02 1245.90,1066.30 C1249.85,1065.58 1254.90,1064.72 1258.60,1063.80 C1262.30,1062.88 1264.92,1061.80 1268.10,1060.80 C1271.28,1059.80 1275.12,1058.35 1277.70,1057.80 C1280.28,1057.25 1281.62,1057.30 1283.60,1057.50 C1285.58,1057.70 1287.42,1057.85 1289.60,1059.00 C1291.78,1060.15 1294.32,1062.32 1296.70,1064.40 C1299.08,1066.48 1301.52,1069.32 1303.90,1071.50 C1306.28,1073.68 1308.22,1075.70 1311.00,1077.50 C1313.78,1079.30 1317.42,1081.00 1320.60,1082.30 C1323.78,1083.60 1327.52,1084.52 1330.10,1085.30 C1332.68,1086.08 1334.78,1086.27 1336.10,1087.00 C1337.42,1087.73 1337.68,1089.25 1338.00,1089.70 L1338.00,1089.7 L1102.00,1089.7 Z" fill="url(#ge)"/>
<path d="M1102.00,1089.70 C1102.27,1089.32 1101.57,1088.67 1103.60,1087.40 C1105.63,1086.13 1110.93,1084.75 1114.20,1082.10 C1117.47,1079.45 1120.43,1075.78 1123.20,1071.50 C1125.97,1067.22 1128.53,1061.93 1130.80,1056.40 C1133.07,1050.87 1134.80,1044.33 1136.80,1038.30 C1138.80,1032.27 1140.78,1025.48 1142.80,1020.20 C1144.82,1014.92 1146.88,1009.62 1148.90,1006.60 C1150.92,1003.58 1152.88,1002.35 1154.90,1002.10 C1156.92,1001.85 1158.73,1002.83 1161.00,1005.10 C1163.27,1007.37 1165.92,1011.52 1168.50,1015.70 C1171.08,1019.88 1172.75,1025.12 1176.50,1030.20 C1180.25,1035.28 1187.07,1042.77 1191.00,1046.20 C1194.93,1049.63 1196.60,1049.12 1200.10,1050.80 C1203.60,1052.48 1208.18,1054.02 1212.00,1056.30 C1215.82,1058.58 1219.18,1062.53 1223.00,1064.50 C1226.82,1066.47 1231.08,1067.80 1234.90,1068.10 C1238.72,1068.40 1241.95,1067.02 1245.90,1066.30 C1249.85,1065.58 1254.90,1064.72 1258.60,1063.80 C1262.30,1062.88 1264.92,1061.80 1268.10,1060.80 C1271.28,1059.80 1275.12,1058.35 1277.70,1057.80 C1280.28,1057.25 1281.62,1057.30 1283.60,1057.50 C1285.58,1057.70 1287.42,1057.85 1289.60,1059.00 C1291.78,1060.15 1294.32,1062.32 1296.70,1064.40 C1299.08,1066.48 1301.52,1069.32 1303.90,1071.50 C1306.28,1073.68 1308.22,1075.70 1311.00,1077.50 C1313.78,1079.30 1317.42,1081.00 1320.60,1082.30 C1323.78,1083.60 1327.52,1084.52 1330.10,1085.30 C1332.68,1086.08 1334.78,1086.27 1336.10,1087.00 C1337.42,1087.73 1337.68,1089.25 1338.00,1089.70" fill="none" stroke="#000" stroke-width="1.5" stroke-linejoin="round"/>
<rect x="1117.2" y="1086.9" width="187.8" height="5" fill="#000"/>
<rect x="1098.6" y="1086.9" width="1" height="5" fill="#000"/>
<rect x="1104.0" y="1086.9" width="1" height="5" fill="#000"/>
<rect x="1106.0" y="1086.9" width="1" height="5" fill="#000"/>
<rect x="1108.0" y="1086.9" width="1" height="5" fill="#000"/>
<rect x="1111.0" y="1086.9" width="1" height="5" fill="#000"/>
<rect x="1113.0" y="1086.9" width="1" height="5" fill="#000"/>
<rect x="1335.7" y="1086.9" width="1" height="5" fill="#000"/>
<rect x="1305.0" y="1086.9" width="2.1" height="5" fill="#000"/>
<rect x="1308.9" y="1086.9" width="1.5" height="5" fill="#000"/>
<rect x="1310.2" y="1086.9" width="2.1" height="5" fill="#000"/>
<rect x="1312.8" y="1086.9" width="1.2" height="5" fill="#000"/>
<rect x="1314.1" y="1086.9" width="1.3" height="5" fill="#000"/>
<rect x="1315.4" y="1086.9" width="1.7" height="5" fill="#000"/>
<rect x="1316.7" y="1086.9" width="1.0" height="5" fill="#000"/>
<rect x="1318.0" y="1086.9" width="1.4" height="5" fill="#000"/>
<rect x="1319.3" y="1086.9" width="2.1" height="5" fill="#000"/>
<rect x="1321.9" y="1086.9" width="1.7" height="5" fill="#000"/>
<rect x="1324.5" y="1086.9" width="2.1" height="5" fill="#000"/>
<rect x="1329.7" y="1086.9" width="1.5" height="5" fill="#000"/>
<rect x="1331.0" y="1086.9" width="1.8" height="5" fill="#000"/>
<rect x="1332.3" y="1086.9" width="1.1" height="5" fill="#000"/>
<rect x="1333.6" y="1086.9" width="1.2" height="5" fill="#000"/>
<rect x="1334.9" y="1086.9" width="1.1" height="5" fill="#000"/>
<rect x="1336.2" y="1086.9" width="1.2" height="5" fill="#000"/>
<path d="M1108.00,1168.00 C1108.27,1167.63 1108.07,1167.03 1109.60,1165.80 C1111.13,1164.57 1114.43,1163.73 1117.20,1160.60 C1119.97,1157.47 1123.43,1152.28 1126.20,1147.00 C1128.97,1141.72 1131.53,1134.93 1133.80,1128.90 C1136.07,1122.87 1137.80,1116.85 1139.80,1110.80 C1141.80,1104.75 1143.78,1097.88 1145.80,1092.60 C1147.82,1087.32 1149.75,1082.23 1151.90,1079.10 C1154.05,1075.97 1156.43,1074.07 1158.70,1073.80 C1160.97,1073.53 1163.12,1074.87 1165.50,1077.50 C1167.88,1080.13 1170.48,1085.07 1173.00,1089.60 C1175.52,1094.13 1178.08,1100.42 1180.60,1104.70 C1183.12,1108.98 1185.08,1112.53 1188.10,1115.30 C1191.12,1118.07 1194.92,1119.28 1198.70,1121.30 C1202.48,1123.32 1206.78,1125.52 1210.80,1127.40 C1214.82,1129.28 1218.60,1130.75 1222.80,1132.60 C1227.00,1134.45 1231.22,1136.12 1236.00,1138.50 C1240.78,1140.88 1246.12,1145.12 1251.50,1146.90 C1256.88,1148.68 1263.02,1148.33 1268.30,1149.20 C1273.58,1150.07 1278.25,1151.48 1283.20,1152.10 C1288.15,1152.72 1294.28,1152.40 1298.00,1152.90 C1301.72,1153.40 1301.78,1153.75 1305.50,1155.10 C1309.22,1156.45 1315.35,1159.38 1320.30,1161.00 C1325.25,1162.62 1331.23,1163.93 1335.20,1164.80 C1339.17,1165.67 1342.30,1165.67 1344.10,1166.20 C1345.90,1166.73 1345.68,1167.70 1346.00,1168.00 L1346.00,1168.0 L1108.00,1168.0 Z" fill="url(#ge)"/>
<path d="M1108.00,1168.00 C1108.27,1167.63 1108.07,1167.03 1109.60,1165.80 C1111.13,1164.57 1114.43,1163.73 1117.20,1160.60 C1119.97,1157.47 1123.43,1152.28 1126.20,1147.00 C1128.97,1141.72 1131.53,1134.93 1133.80,1128.90 C1136.07,1122.87 1137.80,1116.85 1139.80,1110.80 C1141.80,1104.75 1143.78,1097.88 1145.80,1092.60 C1147.82,1087.32 1149.75,1082.23 1151.90,1079.10 C1154.05,1075.97 1156.43,1074.07 1158.70,1073.80 C1160.97,1073.53 1163.12,1074.87 1165.50,1077.50 C1167.88,1080.13 1170.48,1085.07 1173.00,1089.60 C1175.52,1094.13 1178.08,1100.42 1180.60,1104.70 C1183.12,1108.98 1185.08,1112.53 1188.10,1115.30 C1191.12,1118.07 1194.92,1119.28 1198.70,1121.30 C1202.48,1123.32 1206.78,1125.52 1210.80,1127.40 C1214.82,1129.28 1218.60,1130.75 1222.80,1132.60 C1227.00,1134.45 1231.22,1136.12 1236.00,1138.50 C1240.78,1140.88 1246.12,1145.12 1251.50,1146.90 C1256.88,1148.68 1263.02,1148.33 1268.30,1149.20 C1273.58,1150.07 1278.25,1151.48 1283.20,1152.10 C1288.15,1152.72 1294.28,1152.40 1298.00,1152.90 C1301.72,1153.40 1301.78,1153.75 1305.50,1155.10 C1309.22,1156.45 1315.35,1159.38 1320.30,1161.00 C1325.25,1162.62 1331.23,1163.93 1335.20,1164.80 C1339.17,1165.67 1342.30,1165.67 1344.10,1166.20 C1345.90,1166.73 1345.68,1167.70 1346.00,1168.00" fill="none" stroke="#000" stroke-width="1.5" stroke-linejoin="round"/>
<rect x="1119" y="1164.8" width="194.0" height="5" fill="#000"/>
<rect x="1108.0" y="1164.8" width="1" height="5" fill="#000"/>
<rect x="1110.0" y="1164.8" width="1" height="5" fill="#000"/>
<rect x="1112.0" y="1164.8" width="1" height="5" fill="#000"/>
<rect x="1114.0" y="1164.8" width="1" height="5" fill="#000"/>
<rect x="1341.5" y="1164.8" width="1" height="5" fill="#000"/>
<rect x="1313.0" y="1164.8" width="1.4" height="5" fill="#000"/>
<rect x="1314.3" y="1164.8" width="2.0" height="5" fill="#000"/>
<rect x="1316.9" y="1164.8" width="1.3" height="5" fill="#000"/>
<rect x="1318.2" y="1164.8" width="1.4" height="5" fill="#000"/>
<rect x="1319.5" y="1164.8" width="2.0" height="5" fill="#000"/>
<rect x="1322.1" y="1164.8" width="1.6" height="5" fill="#000"/>
<rect x="1323.4" y="1164.8" width="1.1" height="5" fill="#000"/>
<rect x="1324.7" y="1164.8" width="1.3" height="5" fill="#000"/>
<rect x="1327.3" y="1164.8" width="1.0" height="5" fill="#000"/>
<rect x="1329.9" y="1164.8" width="1.2" height="5" fill="#000"/>
<rect x="1331.2" y="1164.8" width="1.0" height="5" fill="#000"/>
<rect x="1332.5" y="1164.8" width="2.2" height="5" fill="#000"/>
<rect x="1336.4" y="1164.8" width="1.4" height="5" fill="#000"/>
<rect x="1337.7" y="1164.8" width="1.9" height="5" fill="#000"/>
<rect x="1339.0" y="1164.8" width="1.9" height="5" fill="#000"/>
<rect x="1340.3" y="1164.8" width="1.3" height="5" fill="#000"/>
<rect x="1095.5" y="1164.5" width="2.5" height="5" fill="#999"/>
<text id="e_HAN" x="1075.90" y="934.70" style="font-family:'Liberation Sans',sans-serif;font-weight:bold;font-size:21.5px" fill="#545454" text-anchor="end" textLength="49.00" lengthAdjust="spacingAndGlyphs" stroke="#545454" stroke-width="0.45" stroke-linejoin="round">HAN</text>
<text id="e_BNG" x="1075.80" y="1012.70" style="font-family:'Liberation Sans',sans-serif;font-weight:bold;font-size:21.5px" fill="#545454" text-anchor="end" textLength="49.75" lengthAdjust="spacingAndGlyphs" stroke="#545454" stroke-width="0.45" stroke-linejoin="round">BNG</text>
<text id="e_PKN" x="1074.50" y="1091.50" style="font-family:'Liberation Sans',sans-serif;font-weight:bold;font-size:21.5px" fill="#545454" text-anchor="end" textLength="44.43" lengthAdjust="spacingAndGlyphs" stroke="#545454" stroke-width="0.45" stroke-linejoin="round">PKN</text>
<text id="e_SOI" x="1075.00" y="1168.60" style="font-family:'Liberation Sans',sans-serif;font-weight:bold;font-size:21.5px" fill="#545454" text-anchor="end" textLength="37.61" lengthAdjust="spacingAndGlyphs" stroke="#545454" stroke-width="0.45" stroke-linejoin="round">SOI</text>
<text id="e_x0" x="1080.67" y="1185.60" style="font-family:'Liberation Sans',sans-serif;font-weight:bold;font-size:14px" fill="#000" text-anchor="middle" textLength="20.98" lengthAdjust="spacingAndGlyphs" stroke="#000" stroke-width="0.45" stroke-linejoin="round">1.0</text>
<text id="e_x1" x="1152.98" y="1185.60" style="font-family:'Liberation Sans',sans-serif;font-weight:bold;font-size:14px" fill="#000" text-anchor="middle" textLength="20.70" lengthAdjust="spacingAndGlyphs" stroke="#000" stroke-width="0.45" stroke-linejoin="round">1.5</text>
<text id="e_x2" x="1221.78" y="1185.60" style="font-family:'Liberation Sans',sans-serif;font-weight:bold;font-size:14px" fill="#000" text-anchor="middle" textLength="21.23" lengthAdjust="spacingAndGlyphs" stroke="#000" stroke-width="0.45" stroke-linejoin="round">2.0</text>
<text id="e_x3" x="1293.88" y="1185.60" style="font-family:'Liberation Sans',sans-serif;font-weight:bold;font-size:14px" fill="#000" text-anchor="middle" textLength="21.05" lengthAdjust="spacingAndGlyphs" stroke="#000" stroke-width="0.45" stroke-linejoin="round">2.5</text>
<text id="e_x4" x="1364.63" y="1185.60" style="font-family:'Liberation Sans',sans-serif;font-weight:bold;font-size:14px" fill="#000" text-anchor="middle" textLength="20.70" lengthAdjust="spacingAndGlyphs" stroke="#000" stroke-width="0.45" stroke-linejoin="round">3.0</text>
<text id="e_xlab" x="1117.10" y="1210.30" style="font-family:'Liberation Sans',sans-serif;font-weight:bold;font-size:16.5px" fill="#000" text-anchor="start" textLength="180.19" lengthAdjust="spacingAndGlyphs" stroke="#000" stroke-width="0.45" stroke-linejoin="round">log10(Sum ROH &gt; 1cM)</text>
<defs><linearGradient id="gcb" x1="0" y1="1" x2="0" y2="0"><stop offset="0.0691" stop-color="#2b1a84"/><stop offset="0.1596" stop-color="#46109d"/><stop offset="0.2569" stop-color="#6d00a8"/><stop offset="0.3225" stop-color="#931aa8"/><stop offset="0.4085" stop-color="#b41b9c"/><stop offset="0.4356" stop-color="#be1790"/><stop offset="0.5216" stop-color="#cf4272"/><stop offset="0.5804" stop-color="#dd5a62"/><stop offset="0.6664" stop-color="#ee7e4a"/><stop offset="0.7795" stop-color="#f7a22c"/><stop offset="0.8429" stop-color="#f8bd14"/><stop offset="0.9198" stop-color="#f3da10"/><stop offset="0.9741" stop-color="#eff31c"/></linearGradient></defs>
<rect x="1233.1" y="758.9" width="12.4" height="57.9" fill="url(#gcb)"/>
<line x1="1233.1" y1="760.4" x2="1235.6" y2="760.4" stroke="#fff" stroke-width="0.8"/>
<line x1="1243" y1="760.4" x2="1245.5" y2="760.4" stroke="#fff" stroke-width="0.8"/>
<line x1="1233.1" y1="773.5" x2="1235.6" y2="773.5" stroke="#fff" stroke-width="0.8"/>
<line x1="1243" y1="773.5" x2="1245.5" y2="773.5" stroke="#fff" stroke-width="0.8"/>
<line x1="1233.1" y1="786.5" x2="1235.6" y2="786.5" stroke="#fff" stroke-width="0.8"/>
<line x1="1243" y1="786.5" x2="1245.5" y2="786.5" stroke="#fff" stroke-width="0.8"/>
<line x1="1233.1" y1="799.4" x2="1235.6" y2="799.4" stroke="#fff" stroke-width="0.8"/>
<line x1="1243" y1="799.4" x2="1245.5" y2="799.4" stroke="#fff" stroke-width="0.8"/>
<line x1="1233.1" y1="812.8" x2="1235.6" y2="812.8" stroke="#fff" stroke-width="0.8"/>
<line x1="1243" y1="812.8" x2="1245.5" y2="812.8" stroke="#fff" stroke-width="0.8"/>
<text id="e_cbt" x="1233.10" y="752.70" style="font-family:'Liberation Sans',sans-serif;font-weight:bold;font-size:9.7px" fill="#000" text-anchor="start" textLength="108.10" lengthAdjust="spacingAndGlyphs" stroke="#000" stroke-width="0.45" stroke-linejoin="round">log10(Sum ROH &gt; 1cM)</text>
<text id="e_cb3.0" x="1249.40" y="764.70" style="font-family:'Liberation Sans',sans-serif;font-weight:bold;font-size:10px" fill="#000" text-anchor="start" textLength="14.61" lengthAdjust="spacingAndGlyphs" stroke="#000" stroke-width="0.45" stroke-linejoin="round">3.0</text>
<text id="e_cb2.5" x="1249.40" y="777.30" style="font-family:'Liberation Sans',sans-serif;font-weight:bold;font-size:10px" fill="#000" text-anchor="start" textLength="14.53" lengthAdjust="spacingAndGlyphs" stroke="#000" stroke-width="0.45" stroke-linejoin="round">2.5</text>
<text id="e_cb2.0" x="1249.40" y="790.30" style="font-family:'Liberation Sans',sans-serif;font-weight:bold;font-size:10px" fill="#000" text-anchor="start" textLength="14.59" lengthAdjust="spacingAndGlyphs" stroke="#000" stroke-width="0.45" stroke-linejoin="round">2.0</text>
<text id="e_cb1.5" x="1249.40" y="803.30" style="font-family:'Liberation Sans',sans-serif;font-weight:bold;font-size:10px" fill="#000" text-anchor="start" textLength="14.76" lengthAdjust="spacingAndGlyphs" stroke="#000" stroke-width="0.45" stroke-linejoin="round">1.5</text>
<text id="e_cb1.0" x="1249.40" y="816.40" style="font-family:'Liberation Sans',sans-serif;font-weight:bold;font-size:10px" fill="#000" text-anchor="start" textLength="14.61" lengthAdjust="spacingAndGlyphs" stroke="#000" stroke-width="0.45" stroke-linejoin="round">1.0</text>
<line x1="1473.7" y1="884" x2="1473.7" y2="1170.6" stroke="#e6e6e6" stroke-width="1.2"/>
<line x1="1524.1" y1="884" x2="1524.1" y2="1170.6" stroke="#e6e6e6" stroke-width="1.2"/>
<line x1="1574.6" y1="702" x2="1574.6" y2="1170.6" stroke="#e6e6e6" stroke-width="1.2"/>
<line x1="1427.2" y1="892.5" x2="1617.3" y2="892.5" stroke="#e6e6e6" stroke-width="1.2"/>
<line x1="1427.2" y1="961.2" x2="1617.3" y2="961.2" stroke="#e6e6e6" stroke-width="1.2"/>
<line x1="1427.2" y1="1029.8" x2="1617.3" y2="1029.8" stroke="#e6e6e6" stroke-width="1.2"/>
<line x1="1427.2" y1="1098.4" x2="1617.3" y2="1098.4" stroke="#e6e6e6" stroke-width="1.2"/>
<line x1="1427.2" y1="1167.0" x2="1617.3" y2="1167.0" stroke="#e6e6e6" stroke-width="1.2"/>
<path d="M1566.00,892.50 C1566.33,887.08 1567.33,872.08 1568.00,860.00 C1568.67,847.92 1569.18,832.75 1570.00,820.00 C1570.82,807.25 1572.18,792.65 1572.90,783.50 C1573.62,774.35 1573.80,772.33 1574.30,765.10 C1574.80,757.87 1575.22,748.45 1575.90,740.10 C1576.58,731.75 1577.62,720.77 1578.40,715.00 C1579.18,709.23 1579.77,707.67 1580.60,705.50 C1581.43,703.33 1582.50,702.00 1583.40,702.00 C1584.30,702.00 1585.30,703.88 1586.00,705.50 C1586.70,707.12 1586.92,707.33 1587.60,711.70 C1588.28,716.07 1589.27,723.35 1590.10,731.70 C1590.93,740.05 1591.77,753.73 1592.60,761.80 C1593.43,769.87 1594.12,774.82 1595.10,780.10 C1596.08,785.38 1597.67,789.05 1598.50,793.50 C1599.33,797.95 1599.42,800.40 1600.10,806.80 C1600.78,813.20 1601.77,824.38 1602.60,831.90 C1603.43,839.42 1604.12,844.95 1605.10,851.90 C1606.08,858.85 1607.23,867.07 1608.50,873.60 C1609.77,880.13 1611.87,887.95 1612.70,891.10 C1613.53,894.25 1613.37,892.27 1613.50,892.50 L1613.50,892.5 L1566.00,892.5 Z" fill="url(#gf)"/>
<path d="M1566.00,892.50 C1566.33,887.08 1567.33,872.08 1568.00,860.00 C1568.67,847.92 1569.18,832.75 1570.00,820.00 C1570.82,807.25 1572.18,792.65 1572.90,783.50 C1573.62,774.35 1573.80,772.33 1574.30,765.10 C1574.80,757.87 1575.22,748.45 1575.90,740.10 C1576.58,731.75 1577.62,720.77 1578.40,715.00 C1579.18,709.23 1579.77,707.67 1580.60,705.50 C1581.43,703.33 1582.50,702.00 1583.40,702.00 C1584.30,702.00 1585.30,703.88 1586.00,705.50 C1586.70,707.12 1586.92,707.33 1587.60,711.70 C1588.28,716.07 1589.27,723.35 1590.10,731.70 C1590.93,740.05 1591.77,753.73 1592.60,761.80 C1593.43,769.87 1594.12,774.82 1595.10,780.10 C1596.08,785.38 1597.67,789.05 1598.50,793.50 C1599.33,797.95 1599.42,800.40 1600.10,806.80 C1600.78,813.20 1601.77,824.38 1602.60,831.90 C1603.43,839.42 1604.12,844.95 1605.10,851.90 C1606.08,858.85 1607.23,867.07 1608.50,873.60 C1609.77,880.13 1611.87,887.95 1612.70,891.10 C1613.53,894.25 1613.37,892.27 1613.50,892.50" fill="none" stroke="#000" stroke-width="1.5" stroke-linejoin="round"/>
<rect x="1579.7" y="890.0" width="17.3" height="5" fill="#000"/>
<rect x="1598.0" y="890.0" width="1" height="5" fill="#000"/>
<rect x="1599.5" y="890.0" width="1" height="5" fill="#000"/>
<rect x="1601.0" y="890.0" width="1" height="5" fill="#000"/>
<rect x="1602.5" y="890.0" width="1" height="5" fill="#000"/>
<rect x="1604.5" y="890.0" width="1" height="5" fill="#000"/>
<rect x="1606.3" y="890.0" width="1" height="5" fill="#000"/>
<path d="M1547.00,961.20 C1547.33,956.00 1548.38,938.97 1549.00,930.00 C1549.62,921.03 1550.25,914.45 1550.70,907.40 C1551.15,900.35 1551.30,894.45 1551.70,887.70 C1552.10,880.95 1552.53,876.20 1553.10,866.90 C1553.67,857.60 1554.42,841.92 1555.10,831.90 C1555.78,821.88 1556.52,815.15 1557.20,806.80 C1557.88,798.45 1558.45,788.75 1559.20,781.80 C1559.95,774.85 1560.90,768.98 1561.70,765.10 C1562.50,761.22 1563.22,760.03 1564.00,758.50 C1564.78,756.97 1565.63,755.90 1566.40,755.90 C1567.17,755.90 1567.98,757.52 1568.60,758.50 C1569.22,759.48 1569.57,759.32 1570.10,761.80 C1570.63,764.28 1571.25,768.12 1571.80,773.40 C1572.35,778.68 1572.85,786.53 1573.40,793.50 C1573.95,800.47 1574.53,807.97 1575.10,815.20 C1575.67,822.43 1576.30,828.60 1576.80,836.90 C1577.30,845.20 1577.62,855.27 1578.10,865.00 C1578.58,874.73 1579.18,886.48 1579.70,895.30 C1580.22,904.12 1580.45,911.10 1581.20,917.90 C1581.95,924.70 1583.20,930.30 1584.20,936.10 C1585.20,941.90 1586.20,948.68 1587.20,952.70 C1588.20,956.72 1589.57,958.78 1590.20,960.20 C1590.83,961.62 1590.87,961.03 1591.00,961.20 L1591.00,961.2 L1547.00,961.2 Z" fill="url(#gf)"/>
<path d="M1547.00,961.20 C1547.33,956.00 1548.38,938.97 1549.00,930.00 C1549.62,921.03 1550.25,914.45 1550.70,907.40 C1551.15,900.35 1551.30,894.45 1551.70,887.70 C1552.10,880.95 1552.53,876.20 1553.10,866.90 C1553.67,857.60 1554.42,841.92 1555.10,831.90 C1555.78,821.88 1556.52,815.15 1557.20,806.80 C1557.88,798.45 1558.45,788.75 1559.20,781.80 C1559.95,774.85 1560.90,768.98 1561.70,765.10 C1562.50,761.22 1563.22,760.03 1564.00,758.50 C1564.78,756.97 1565.63,755.90 1566.40,755.90 C1567.17,755.90 1567.98,757.52 1568.60,758.50 C1569.22,759.48 1569.57,759.32 1570.10,761.80 C1570.63,764.28 1571.25,768.12 1571.80,773.40 C1572.35,778.68 1572.85,786.53 1573.40,793.50 C1573.95,800.47 1574.53,807.97 1575.10,815.20 C1575.67,822.43 1576.30,828.60 1576.80,836.90 C1577.30,845.20 1577.62,855.27 1578.10,865.00 C1578.58,874.73 1579.18,886.48 1579.70,895.30 C1580.22,904.12 1580.45,911.10 1581.20,917.90 C1581.95,924.70 1583.20,930.30 1584.20,936.10 C1585.20,941.90 1586.20,948.68 1587.20,952.70 C1588.20,956.72 1589.57,958.78 1590.20,960.20 C1590.83,961.62 1590.87,961.03 1591.00,961.20" fill="none" stroke="#000" stroke-width="1.5" stroke-linejoin="round"/>
<rect x="1557" y="958.7" width="23.0" height="5" fill="#000"/>
<rect x="1580.7" y="958.7" width="1" height="5" fill="#000"/>
<rect x="1582.0" y="958.7" width="1" height="5" fill="#000"/>
<rect x="1582.9" y="958.7" width="1" height="5" fill="#000"/>
<path d="M1517.00,1029.80 C1517.33,1024.83 1518.37,1009.33 1519.00,1000.00 C1519.63,990.67 1520.25,980.68 1520.80,973.80 C1521.35,966.92 1521.80,963.73 1522.30,958.70 C1522.80,953.67 1523.30,948.13 1523.80,943.60 C1524.30,939.07 1524.67,934.52 1525.30,931.50 C1525.93,928.48 1526.85,926.38 1527.60,925.50 C1528.35,924.62 1529.05,925.82 1529.80,926.20 C1530.55,926.58 1531.22,929.68 1532.10,927.80 C1532.98,925.92 1534.10,919.82 1535.10,914.90 C1536.10,909.98 1537.08,904.08 1538.10,898.30 C1539.12,892.52 1540.42,885.17 1541.20,880.20 C1541.98,875.23 1542.30,871.27 1542.80,868.50 C1543.30,865.73 1543.73,863.60 1544.20,863.60 C1544.67,863.60 1545.10,865.73 1545.60,868.50 C1546.10,871.27 1546.55,874.48 1547.20,880.20 C1547.85,885.92 1548.75,896.52 1549.50,902.80 C1550.25,909.08 1550.95,912.60 1551.70,917.90 C1552.45,923.20 1553.25,928.80 1554.00,934.60 C1554.75,940.40 1555.45,946.67 1556.20,952.70 C1556.95,958.73 1557.62,964.02 1558.50,970.80 C1559.38,977.58 1560.48,987.12 1561.50,993.40 C1562.52,999.68 1563.58,1005.22 1564.60,1008.50 C1565.62,1011.78 1566.60,1012.08 1567.60,1013.10 C1568.60,1014.12 1569.60,1013.60 1570.60,1014.60 C1571.60,1015.60 1572.60,1017.35 1573.60,1019.10 C1574.60,1020.85 1575.72,1023.45 1576.60,1025.10 C1577.48,1026.75 1578.42,1028.22 1578.90,1029.00 C1579.38,1029.78 1579.40,1029.67 1579.50,1029.80 L1579.50,1029.8 L1517.00,1029.8 Z" fill="url(#gf)"/>
<path d="M1517.00,1029.80 C1517.33,1024.83 1518.37,1009.33 1519.00,1000.00 C1519.63,990.67 1520.25,980.68 1520.80,973.80 C1521.35,966.92 1521.80,963.73 1522.30,958.70 C1522.80,953.67 1523.30,948.13 1523.80,943.60 C1524.30,939.07 1524.67,934.52 1525.30,931.50 C1525.93,928.48 1526.85,926.38 1527.60,925.50 C1528.35,924.62 1529.05,925.82 1529.80,926.20 C1530.55,926.58 1531.22,929.68 1532.10,927.80 C1532.98,925.92 1534.10,919.82 1535.10,914.90 C1536.10,909.98 1537.08,904.08 1538.10,898.30 C1539.12,892.52 1540.42,885.17 1541.20,880.20 C1541.98,875.23 1542.30,871.27 1542.80,868.50 C1543.30,865.73 1543.73,863.60 1544.20,863.60 C1544.67,863.60 1545.10,865.73 1545.60,868.50 C1546.10,871.27 1546.55,874.48 1547.20,880.20 C1547.85,885.92 1548.75,896.52 1549.50,902.80 C1550.25,909.08 1550.95,912.60 1551.70,917.90 C1552.45,923.20 1553.25,928.80 1554.00,934.60 C1554.75,940.40 1555.45,946.67 1556.20,952.70 C1556.95,958.73 1557.62,964.02 1558.50,970.80 C1559.38,977.58 1560.48,987.12 1561.50,993.40 C1562.52,999.68 1563.58,1005.22 1564.60,1008.50 C1565.62,1011.78 1566.60,1012.08 1567.60,1013.10 C1568.60,1014.12 1569.60,1013.60 1570.60,1014.60 C1571.60,1015.60 1572.60,1017.35 1573.60,1019.10 C1574.60,1020.85 1575.72,1023.45 1576.60,1025.10 C1577.48,1026.75 1578.42,1028.22 1578.90,1029.00 C1579.38,1029.78 1579.40,1029.67 1579.50,1029.80" fill="none" stroke="#000" stroke-width="1.5" stroke-linejoin="round"/>
<rect x="1526.8" y="1027.3" width="33.2" height="5" fill="#000"/>
<rect x="1560.5" y="1027.3" width="1" height="5" fill="#000"/>
<rect x="1561.8" y="1027.3" width="1" height="5" fill="#000"/>
<rect x="1565.5" y="1027.3" width="1" height="5" fill="#000"/>
<rect x="1567.3" y="1027.3" width="1" height="5" fill="#000"/>
<rect x="1569.3" y="1027.3" width="1" height="5" fill="#000"/>
<rect x="1574.6" y="1027.3" width="1" height="5" fill="#000"/>
<path d="M1486.00,1098.40 C1486.38,1093.12 1487.17,1077.90 1488.30,1066.70 C1489.43,1055.50 1491.67,1040.13 1492.80,1031.20 C1493.93,1022.27 1494.22,1019.40 1495.10,1013.10 C1495.98,1006.80 1497.10,999.70 1498.10,993.40 C1499.10,987.10 1500.08,980.83 1501.10,975.30 C1502.12,969.77 1503.18,964.73 1504.20,960.20 C1505.22,955.67 1506.37,950.77 1507.20,948.10 C1508.03,945.43 1508.52,945.07 1509.20,944.20 C1509.88,943.33 1510.63,942.85 1511.30,942.90 C1511.97,942.95 1512.63,943.63 1513.20,944.50 C1513.77,945.37 1513.95,945.48 1514.70,948.10 C1515.45,950.72 1516.82,955.67 1517.70,960.20 C1518.58,964.73 1519.23,969.77 1520.00,975.30 C1520.77,980.83 1521.55,987.10 1522.30,993.40 C1523.05,999.70 1523.75,1006.80 1524.50,1013.10 C1525.25,1019.40 1525.97,1025.05 1526.80,1031.20 C1527.63,1037.35 1528.77,1044.60 1529.50,1050.00 C1530.23,1055.40 1530.38,1057.63 1531.20,1063.60 C1532.02,1069.57 1533.07,1081.43 1534.40,1085.80 C1535.73,1090.17 1537.88,1088.48 1539.20,1089.80 C1540.52,1091.12 1541.25,1092.38 1542.30,1093.70 C1543.35,1095.02 1544.88,1096.92 1545.50,1097.70 C1546.12,1098.48 1545.92,1098.28 1546.00,1098.40 L1546.00,1098.4 L1486.00,1098.4 Z" fill="url(#gf)"/>
<path d="M1486.00,1098.40 C1486.38,1093.12 1487.17,1077.90 1488.30,1066.70 C1489.43,1055.50 1491.67,1040.13 1492.80,1031.20 C1493.93,1022.27 1494.22,1019.40 1495.10,1013.10 C1495.98,1006.80 1497.10,999.70 1498.10,993.40 C1499.10,987.10 1500.08,980.83 1501.10,975.30 C1502.12,969.77 1503.18,964.73 1504.20,960.20 C1505.22,955.67 1506.37,950.77 1507.20,948.10 C1508.03,945.43 1508.52,945.07 1509.20,944.20 C1509.88,943.33 1510.63,942.85 1511.30,942.90 C1511.97,942.95 1512.63,943.63 1513.20,944.50 C1513.77,945.37 1513.95,945.48 1514.70,948.10 C1515.45,950.72 1516.82,955.67 1517.70,960.20 C1518.58,964.73 1519.23,969.77 1520.00,975.30 C1520.77,980.83 1521.55,987.10 1522.30,993.40 C1523.05,999.70 1523.75,1006.80 1524.50,1013.10 C1525.25,1019.40 1525.97,1025.05 1526.80,1031.20 C1527.63,1037.35 1528.77,1044.60 1529.50,1050.00 C1530.23,1055.40 1530.38,1057.63 1531.20,1063.60 C1532.02,1069.57 1533.07,1081.43 1534.40,1085.80 C1535.73,1090.17 1537.88,1088.48 1539.20,1089.80 C1540.52,1091.12 1541.25,1092.38 1542.30,1093.70 C1543.35,1095.02 1544.88,1096.92 1545.50,1097.70 C1546.12,1098.48 1545.92,1098.28 1546.00,1098.40" fill="none" stroke="#000" stroke-width="1.5" stroke-linejoin="round"/>
<path d="M1570.50,1098.40 C1570.83,1098.10 1571.67,1096.90 1572.50,1096.60 C1573.33,1096.30 1574.67,1096.30 1575.50,1096.60 C1576.33,1096.90 1577.17,1098.10 1577.50,1098.40 L1577.50,1098.4 L1570.50,1098.4 Z" fill="url(#gf)"/>
<path d="M1570.50,1098.40 C1570.83,1098.10 1571.67,1096.90 1572.50,1096.60 C1573.33,1096.30 1574.67,1096.30 1575.50,1096.60 C1576.33,1096.90 1577.17,1098.10 1577.50,1098.40" fill="none" stroke="#000" stroke-width="1" stroke-linejoin="round"/>
<rect x="1493" y="1095.9" width="41.0" height="5" fill="#000"/>
<rect x="1535.0" y="1095.9" width="1" height="5" fill="#000"/>
<rect x="1536.5" y="1095.9" width="1" height="5" fill="#000"/>
<rect x="1541.8" y="1095.9" width="1" height="5" fill="#000"/>
<rect x="1544.2" y="1095.9" width="1" height="5" fill="#000"/>
<rect x="1576.0" y="1095.9" width="1" height="5" fill="#000"/>
<path d="M1436.00,1167.00 C1436.25,1166.83 1435.93,1167.08 1437.50,1166.00 C1439.07,1164.92 1443.15,1163.28 1445.40,1160.50 C1447.65,1157.72 1449.28,1154.33 1451.00,1149.30 C1452.72,1144.27 1454.25,1137.18 1455.70,1130.30 C1457.15,1123.42 1458.50,1115.68 1459.70,1108.00 C1460.90,1100.32 1461.97,1091.08 1462.90,1084.20 C1463.83,1077.32 1464.50,1072.27 1465.30,1066.70 C1466.10,1061.13 1466.78,1056.08 1467.70,1050.80 C1468.62,1045.52 1469.98,1038.38 1470.80,1035.00 C1471.62,1031.62 1471.98,1031.57 1472.60,1030.50 C1473.22,1029.43 1473.85,1028.55 1474.50,1028.60 C1475.15,1028.65 1475.78,1029.48 1476.50,1030.80 C1477.22,1032.12 1477.62,1032.90 1478.80,1036.50 C1479.98,1040.10 1482.02,1046.83 1483.60,1052.40 C1485.18,1057.97 1486.72,1062.75 1488.30,1069.90 C1489.88,1077.05 1491.50,1087.88 1493.10,1095.30 C1494.70,1102.72 1496.05,1107.78 1497.90,1114.40 C1499.75,1121.02 1502.35,1129.97 1504.20,1135.00 C1506.05,1140.03 1507.42,1142.33 1509.00,1144.60 C1510.58,1146.87 1512.12,1146.22 1513.70,1148.60 C1515.28,1150.98 1516.90,1156.13 1518.50,1158.90 C1520.10,1161.67 1522.10,1163.85 1523.30,1165.20 C1524.50,1166.55 1525.30,1166.70 1525.70,1167.00 L1525.70,1167.0 L1436.00,1167.0 Z" fill="url(#gf)"/>
<path d="M1436.00,1167.00 C1436.25,1166.83 1435.93,1167.08 1437.50,1166.00 C1439.07,1164.92 1443.15,1163.28 1445.40,1160.50 C1447.65,1157.72 1449.28,1154.33 1451.00,1149.30 C1452.72,1144.27 1454.25,1137.18 1455.70,1130.30 C1457.15,1123.42 1458.50,1115.68 1459.70,1108.00 C1460.90,1100.32 1461.97,1091.08 1462.90,1084.20 C1463.83,1077.32 1464.50,1072.27 1465.30,1066.70 C1466.10,1061.13 1466.78,1056.08 1467.70,1050.80 C1468.62,1045.52 1469.98,1038.38 1470.80,1035.00 C1471.62,1031.62 1471.98,1031.57 1472.60,1030.50 C1473.22,1029.43 1473.85,1028.55 1474.50,1028.60 C1475.15,1028.65 1475.78,1029.48 1476.50,1030.80 C1477.22,1032.12 1477.62,1032.90 1478.80,1036.50 C1479.98,1040.10 1482.02,1046.83 1483.60,1052.40 C1485.18,1057.97 1486.72,1062.75 1488.30,1069.90 C1489.88,1077.05 1491.50,1087.88 1493.10,1095.30 C1494.70,1102.72 1496.05,1107.78 1497.90,1114.40 C1499.75,1121.02 1502.35,1129.97 1504.20,1135.00 C1506.05,1140.03 1507.42,1142.33 1509.00,1144.60 C1510.58,1146.87 1512.12,1146.22 1513.70,1148.60 C1515.28,1150.98 1516.90,1156.13 1518.50,1158.90 C1520.10,1161.67 1522.10,1163.85 1523.30,1165.20 C1524.50,1166.55 1525.30,1166.70 1525.70,1167.00" fill="none" stroke="#000" stroke-width="1.5" stroke-linejoin="round"/>
<rect x="1439.5" y="1164.5" width="82.2" height="5" fill="#000"/>
<rect x="1437.0" y="1164.5" width="1" height="5" fill="#000"/>
<rect x="1438.0" y="1164.5" width="1" height="5" fill="#000"/>
<rect x="1526.7" y="1164.5" width="1" height="5" fill="#000"/>
<rect x="1537.1" y="1164.5" width="1" height="5" fill="#000"/>
<text id="f_lab0" x="1627.80" y="895.30" style="font-family:'Liberation Sans',sans-serif;font-weight:bold;font-size:20px" fill="#545454" text-anchor="start" textLength="84.39" lengthAdjust="spacingAndGlyphs" stroke="#545454" stroke-width="0.45" stroke-linejoin="round">Avuncular</text>
<text id="f_lab1" x="1627.80" y="960.90" style="font-family:'Liberation Sans',sans-serif;font-weight:bold;font-size:20px" fill="#545454" text-anchor="start" textLength="84.12" lengthAdjust="spacingAndGlyphs" stroke="#545454" stroke-width="0.45" stroke-linejoin="round">1st cousin</text>
<text id="f_lab2" x="1627.80" y="1022.10" style="font-family:'Liberation Sans',sans-serif;font-weight:bold;font-size:20px" fill="#545454" text-anchor="start" textLength="84.12" lengthAdjust="spacingAndGlyphs" stroke="#545454" stroke-width="0.45" stroke-linejoin="round">1st cousin</text>
<text id="f_lab3" x="1627.90" y="1046.60" style="font-family:'Liberation Sans',sans-serif;font-weight:bold;font-size:20px" fill="#545454" text-anchor="start" textLength="124.00" lengthAdjust="spacingAndGlyphs" stroke="#545454" stroke-width="0.45" stroke-linejoin="round">once removed</text>
<text id="f_lab4" x="1627.80" y="1097.90" style="font-family:'Liberation Sans',sans-serif;font-weight:bold;font-size:20px" fill="#545454" text-anchor="start" textLength="91.01" lengthAdjust="spacingAndGlyphs" stroke="#545454" stroke-width="0.45" stroke-linejoin="round">2nd cousin</text>
<text id="f_lab5" x="1627.30" y="1164.50" style="font-family:'Liberation Sans',sans-serif;font-weight:bold;font-size:20px" fill="#545454" text-anchor="start" textLength="85.53" lengthAdjust="spacingAndGlyphs" stroke="#545454" stroke-width="0.45" stroke-linejoin="round">Unrelated</text>
<text id="f_x0" x="1471.98" y="1183.50" style="font-family:'Liberation Sans',sans-serif;font-weight:bold;font-size:14px" fill="#000" text-anchor="middle" textLength="21.18" lengthAdjust="spacingAndGlyphs" stroke="#000" stroke-width="0.45" stroke-linejoin="round">1.5</text>
<text id="f_x1" x="1523.23" y="1183.50" style="font-family:'Liberation Sans',sans-serif;font-weight:bold;font-size:14px" fill="#000" text-anchor="middle" textLength="20.69" lengthAdjust="spacingAndGlyphs" stroke="#000" stroke-width="0.45" stroke-linejoin="round">2.0</text>
<text id="f_x2" x="1575.25" y="1183.50" style="font-family:'Liberation Sans',sans-serif;font-weight:bold;font-size:14px" fill="#000" text-anchor="middle" textLength="20.63" lengthAdjust="spacingAndGlyphs" stroke="#000" stroke-width="0.45" stroke-linejoin="round">2.5</text>
<text id="f_xlab" x="1434.70" y="1210.30" style="font-family:'Liberation Sans',sans-serif;font-weight:bold;font-size:16.5px" fill="#000" text-anchor="start" textLength="179.80" lengthAdjust="spacingAndGlyphs" stroke="#000" stroke-width="0.45" stroke-linejoin="round">log10(Sum ROH &gt; 1cM)</text>
</svg>
</body></html>
